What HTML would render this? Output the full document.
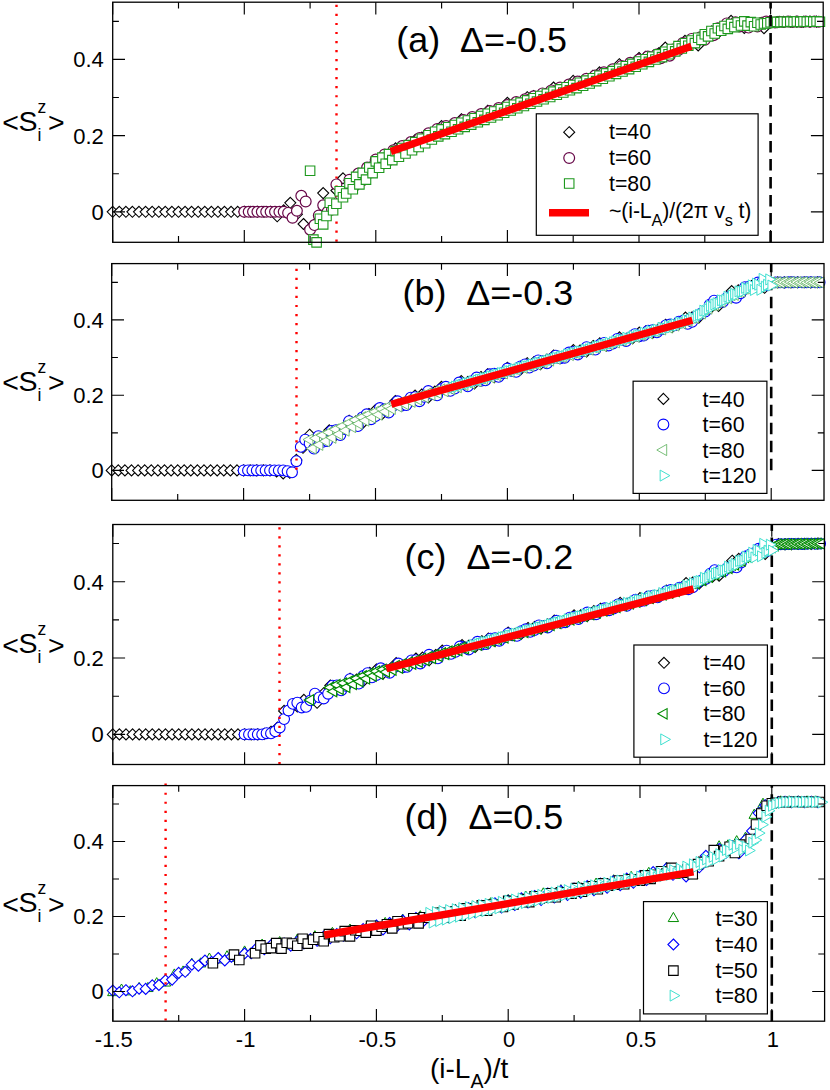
<!DOCTYPE html>
<html><head><meta charset="utf-8"><title>fig</title>
<style>html,body{margin:0;padding:0;background:#fff}svg{display:block}</style></head>
<body>
<svg width="830" height="1090" viewBox="0 0 830 1090" font-family="Liberation Sans, sans-serif" fill="#000">
<rect width="830" height="1090" fill="#fff"/>

<defs>
<path id="di" d="M0-5.5L5.5 0L0 5.5L-5.5 0Z"/>
<circle id="ci" r="5.4"/>
<path id="sq" d="M-4.75-4.75H4.75V4.75H-4.75Z"/>
<path id="tl" d="M-6.2 0L3.1-5.2V5.2Z"/>
<path id="tlb" d="M-6.6 0L3.3-5.6V5.6Z"/>
<path id="tr" d="M6.5 0L-3.25-5.5V5.5Z"/>
<path id="tu" d="M0-6.1L5.2 3.05H-5.2Z"/>
</defs>

<g fill="#fff" stroke="#000" stroke-width="1.1">
<use href="#di" x="112.7" y="211.8"/>
<use href="#di" x="119.3" y="211.8"/>
<use href="#di" x="125.9" y="211.8"/>
<use href="#di" x="132.4" y="211.8"/>
<use href="#di" x="139" y="211.8"/>
<use href="#di" x="145.6" y="211.8"/>
<use href="#di" x="152.2" y="211.8"/>
<use href="#di" x="158.8" y="211.8"/>
<use href="#di" x="165.3" y="211.8"/>
<use href="#di" x="171.9" y="211.8"/>
<use href="#di" x="178.5" y="211.8"/>
<use href="#di" x="185.1" y="211.8"/>
<use href="#di" x="191.6" y="211.8"/>
<use href="#di" x="198.2" y="211.8"/>
<use href="#di" x="204.8" y="211.8"/>
<use href="#di" x="211.4" y="211.8"/>
<use href="#di" x="218" y="211.8"/>
<use href="#di" x="224.5" y="211.8"/>
<use href="#di" x="231.1" y="211.8"/>
<use href="#di" x="237.7" y="211.8"/>
<use href="#di" x="244.3" y="211.8"/>
<use href="#di" x="250.9" y="211.8"/>
<use href="#di" x="257.4" y="211.8"/>
<use href="#di" x="264" y="211.8"/>
<use href="#di" x="270.6" y="211.8"/>
<use href="#di" x="277.2" y="216.3"/>
<use href="#di" x="283.7" y="210.3"/>
<use href="#di" x="290.3" y="202.8"/>
<use href="#di" x="296.9" y="214.3"/>
<use href="#di" x="303.5" y="224"/>
<use href="#di" x="310.1" y="228.2"/>
<use href="#di" x="316.6" y="222.3"/>
<use href="#di" x="323.2" y="193.1"/>
<use href="#di" x="329.8" y="205.3"/>
<use href="#di" x="336.4" y="190.5"/>
<use href="#di" x="343" y="178.3"/>
<use href="#di" x="349.5" y="180.5"/>
<use href="#di" x="356.1" y="178.7"/>
<use href="#di" x="362.7" y="178.6"/>
<use href="#di" x="369.3" y="167.6"/>
<use href="#di" x="375.8" y="160.1"/>
<use href="#di" x="382.4" y="162.2"/>
<use href="#di" x="389" y="156.3"/>
<use href="#di" x="395.6" y="148.3"/>
<use href="#di" x="402.2" y="150"/>
<use href="#di" x="408.7" y="149.1"/>
<use href="#di" x="415.3" y="139.9"/>
<use href="#di" x="421.9" y="137.6"/>
<use href="#di" x="428.5" y="139.4"/>
<use href="#di" x="435.1" y="131.6"/>
<use href="#di" x="441.6" y="126.1"/>
<use href="#di" x="448.2" y="129.7"/>
<use href="#di" x="454.8" y="127.4"/>
<use href="#di" x="461.4" y="119.2"/>
<use href="#di" x="467.9" y="120.1"/>
<use href="#di" x="474.5" y="121.9"/>
<use href="#di" x="481.1" y="114.2"/>
<use href="#di" x="487.7" y="110.7"/>
<use href="#di" x="494.3" y="114.5"/>
<use href="#di" x="500.8" y="110"/>
<use href="#di" x="507.4" y="102.8"/>
<use href="#di" x="514" y="105.5"/>
<use href="#di" x="520.6" y="105.4"/>
<use href="#di" x="527.2" y="97.2"/>
<use href="#di" x="533.7" y="96.1"/>
<use href="#di" x="540.3" y="99.3"/>
<use href="#di" x="546.9" y="93"/>
<use href="#di" x="553.5" y="87.5"/>
<use href="#di" x="560.1" y="91.2"/>
<use href="#di" x="566.6" y="88.9"/>
<use href="#di" x="573.2" y="80.9"/>
<use href="#di" x="579.8" y="81.8"/>
<use href="#di" x="586.4" y="83.7"/>
<use href="#di" x="592.9" y="75.9"/>
<use href="#di" x="599.5" y="72.4"/>
<use href="#di" x="606.1" y="76"/>
<use href="#di" x="612.7" y="71.5"/>
<use href="#di" x="619.3" y="64.2"/>
<use href="#di" x="625.8" y="66.7"/>
<use href="#di" x="632.4" y="66.5"/>
<use href="#di" x="639" y="58"/>
<use href="#di" x="645.6" y="56.8"/>
<use href="#di" x="652.2" y="59.8"/>
<use href="#di" x="658.7" y="53.3"/>
<use href="#di" x="665.3" y="47.6"/>
<use href="#di" x="671.9" y="52.2"/>
<use href="#di" x="678.5" y="48.8"/>
<use href="#di" x="685" y="40.8"/>
<use href="#di" x="691.6" y="42.8"/>
<use href="#di" x="698.2" y="45.4"/>
<use href="#di" x="704.8" y="36.7"/>
<use href="#di" x="711.4" y="31.5"/>
<use href="#di" x="717.9" y="33.1"/>
<use href="#di" x="724.5" y="27.6"/>
<use href="#di" x="731.1" y="20.8"/>
<use href="#di" x="737.7" y="25.2"/>
<use href="#di" x="744.3" y="27.9"/>
<use href="#di" x="750.8" y="23.4"/>
<use href="#di" x="757.4" y="24.9"/>
<use href="#di" x="764" y="28.2"/>
<use href="#di" x="770.6" y="22.4"/>
<use href="#di" x="777.1" y="22.1"/>
<use href="#di" x="783.7" y="21.8"/>
<use href="#di" x="790.3" y="21.8"/>
<use href="#di" x="796.9" y="21.7"/>
<use href="#di" x="803.5" y="21.7"/>
<use href="#di" x="810" y="21.6"/>
<use href="#di" x="816.6" y="21.6"/>
</g>
<g fill="#fff" stroke="#670748" stroke-width="1.2">
<use href="#ci" x="244.3" y="211.8"/>
<use href="#ci" x="248.7" y="211.8"/>
<use href="#ci" x="253" y="211.8"/>
<use href="#ci" x="257.4" y="211.8"/>
<use href="#ci" x="261.8" y="211.8"/>
<use href="#ci" x="266.2" y="211.8"/>
<use href="#ci" x="270.6" y="211.8"/>
<use href="#ci" x="275" y="211.8"/>
<use href="#ci" x="279.4" y="211.8"/>
<use href="#ci" x="283.7" y="211.8"/>
<use href="#ci" x="288.1" y="212.9"/>
<use href="#ci" x="292.5" y="217.8"/>
<use href="#ci" x="296.9" y="210.8"/>
<use href="#ci" x="301.3" y="195.8"/>
<use href="#ci" x="305.7" y="201.5"/>
<use href="#ci" x="310.1" y="229.7"/>
<use href="#ci" x="314.4" y="225.1"/>
<use href="#ci" x="318.8" y="215.5"/>
<use href="#ci" x="323.2" y="205.3"/>
<use href="#ci" x="327.6" y="211.8"/>
<use href="#ci" x="332" y="209.5"/>
<use href="#ci" x="336.4" y="184.4"/>
<use href="#ci" x="340.8" y="195.4"/>
<use href="#ci" x="345.1" y="193.6"/>
<use href="#ci" x="349.5" y="179.7"/>
<use href="#ci" x="353.9" y="186.4"/>
<use href="#ci" x="358.3" y="173.6"/>
<use href="#ci" x="362.7" y="180.2"/>
<use href="#ci" x="367.1" y="167.6"/>
<use href="#ci" x="371.5" y="172.2"/>
<use href="#ci" x="375.8" y="159.5"/>
<use href="#ci" x="380.2" y="165.1"/>
<use href="#ci" x="384.6" y="154.5"/>
<use href="#ci" x="389" y="159.9"/>
<use href="#ci" x="393.4" y="150.2"/>
<use href="#ci" x="397.8" y="155.5"/>
<use href="#ci" x="402.2" y="146.1"/>
<use href="#ci" x="406.5" y="151.1"/>
<use href="#ci" x="410.9" y="142.1"/>
<use href="#ci" x="415.3" y="146.8"/>
<use href="#ci" x="419.7" y="138"/>
<use href="#ci" x="424.1" y="142"/>
<use href="#ci" x="428.5" y="133.3"/>
<use href="#ci" x="432.9" y="137"/>
<use href="#ci" x="437.2" y="129"/>
<use href="#ci" x="441.6" y="133.3"/>
<use href="#ci" x="446" y="126"/>
<use href="#ci" x="450.4" y="130.2"/>
<use href="#ci" x="454.8" y="123.1"/>
<use href="#ci" x="459.2" y="127"/>
<use href="#ci" x="463.6" y="120.1"/>
<use href="#ci" x="467.9" y="123.9"/>
<use href="#ci" x="472.3" y="117.1"/>
<use href="#ci" x="476.7" y="120.7"/>
<use href="#ci" x="481.1" y="114.1"/>
<use href="#ci" x="485.5" y="117.6"/>
<use href="#ci" x="489.9" y="111.1"/>
<use href="#ci" x="494.3" y="114.4"/>
<use href="#ci" x="498.7" y="108.1"/>
<use href="#ci" x="503" y="111.3"/>
<use href="#ci" x="507.4" y="105.1"/>
<use href="#ci" x="511.8" y="108.2"/>
<use href="#ci" x="516.2" y="102.1"/>
<use href="#ci" x="520.6" y="105.2"/>
<use href="#ci" x="525" y="99.2"/>
<use href="#ci" x="529.4" y="102.2"/>
<use href="#ci" x="533.7" y="96.3"/>
<use href="#ci" x="538.1" y="99.2"/>
<use href="#ci" x="542.5" y="93.4"/>
<use href="#ci" x="546.9" y="96.2"/>
<use href="#ci" x="551.3" y="90.4"/>
<use href="#ci" x="555.7" y="93.2"/>
<use href="#ci" x="560.1" y="87.5"/>
<use href="#ci" x="564.4" y="90.3"/>
<use href="#ci" x="568.8" y="84.6"/>
<use href="#ci" x="573.2" y="87.3"/>
<use href="#ci" x="577.6" y="81.6"/>
<use href="#ci" x="582" y="84.3"/>
<use href="#ci" x="586.4" y="78.7"/>
<use href="#ci" x="590.8" y="81.2"/>
<use href="#ci" x="595.1" y="75.5"/>
<use href="#ci" x="599.5" y="78"/>
<use href="#ci" x="603.9" y="72.3"/>
<use href="#ci" x="608.3" y="74.8"/>
<use href="#ci" x="612.7" y="69.2"/>
<use href="#ci" x="617.1" y="71.6"/>
<use href="#ci" x="621.5" y="66"/>
<use href="#ci" x="625.8" y="68.4"/>
<use href="#ci" x="630.2" y="62.8"/>
<use href="#ci" x="634.6" y="65.2"/>
<use href="#ci" x="639" y="59.6"/>
<use href="#ci" x="643.4" y="62"/>
<use href="#ci" x="647.8" y="56.5"/>
<use href="#ci" x="652.2" y="58.8"/>
<use href="#ci" x="656.5" y="54.5"/>
<use href="#ci" x="660.9" y="58.2"/>
<use href="#ci" x="665.3" y="53.5"/>
<use href="#ci" x="669.7" y="55.7"/>
<use href="#ci" x="674.1" y="49.2"/>
<use href="#ci" x="678.5" y="50"/>
<use href="#ci" x="682.9" y="42.9"/>
<use href="#ci" x="687.2" y="44.3"/>
<use href="#ci" x="691.6" y="38.9"/>
<use href="#ci" x="696" y="42"/>
<use href="#ci" x="700.4" y="37.2"/>
<use href="#ci" x="704.8" y="39.8"/>
<use href="#ci" x="709.2" y="33.9"/>
<use href="#ci" x="713.6" y="35.2"/>
<use href="#ci" x="717.9" y="28.2"/>
<use href="#ci" x="722.3" y="29.3"/>
<use href="#ci" x="726.7" y="23.4"/>
<use href="#ci" x="731.1" y="26.2"/>
<use href="#ci" x="735.5" y="22.3"/>
<use href="#ci" x="739.9" y="26.4"/>
<use href="#ci" x="744.3" y="23.1"/>
<use href="#ci" x="748.6" y="27.6"/>
<use href="#ci" x="753" y="23.5"/>
<use href="#ci" x="757.4" y="26.5"/>
<use href="#ci" x="761.8" y="22.7"/>
<use href="#ci" x="766.2" y="21.6"/>
<use href="#ci" x="770.6" y="22.3"/>
<use href="#ci" x="775" y="22.4"/>
<use href="#ci" x="779.3" y="21.8"/>
<use href="#ci" x="783.7" y="22"/>
<use href="#ci" x="788.1" y="21.6"/>
<use href="#ci" x="792.5" y="22"/>
<use href="#ci" x="796.9" y="21.5"/>
<use href="#ci" x="801.3" y="21.9"/>
<use href="#ci" x="805.7" y="21.5"/>
<use href="#ci" x="810" y="21.8"/>
<use href="#ci" x="814.4" y="21.4"/>
<use href="#ci" x="818.8" y="21.7"/>
</g>
<path d="M336.5 4.83V242.3" stroke="#f00" stroke-width="2.4" stroke-dasharray="2.2 6.83" fill="none"/>
<g fill="#fff" stroke="#1d981d" stroke-width="1.1">
<use href="#sq" x="310.1" y="170.8"/>
<use href="#sq" x="313.4" y="239.6"/>
<use href="#sq" x="316.6" y="242.4"/>
<use href="#sq" x="319.9" y="218.8"/>
<use href="#sq" x="323.2" y="224.4"/>
<use href="#sq" x="326.5" y="216"/>
<use href="#sq" x="329.8" y="202.8"/>
<use href="#sq" x="333.1" y="210.3"/>
<use href="#sq" x="336.4" y="203.7"/>
<use href="#sq" x="339.7" y="191.3"/>
<use href="#sq" x="343" y="197.3"/>
<use href="#sq" x="346.2" y="193.5"/>
<use href="#sq" x="349.5" y="183.2"/>
<use href="#sq" x="352.8" y="189.2"/>
<use href="#sq" x="356.1" y="176.9"/>
<use href="#sq" x="359.4" y="184.4"/>
<use href="#sq" x="362.7" y="172.9"/>
<use href="#sq" x="366" y="179.6"/>
<use href="#sq" x="369.3" y="167.5"/>
<use href="#sq" x="372.6" y="173.1"/>
<use href="#sq" x="375.8" y="161.4"/>
<use href="#sq" x="379.1" y="167.7"/>
<use href="#sq" x="382.4" y="157.6"/>
<use href="#sq" x="385.7" y="163.7"/>
<use href="#sq" x="389" y="154.1"/>
<use href="#sq" x="392.3" y="160.1"/>
<use href="#sq" x="395.6" y="151.1"/>
<use href="#sq" x="398.9" y="156.8"/>
<use href="#sq" x="402.2" y="148"/>
<use href="#sq" x="405.5" y="153.5"/>
<use href="#sq" x="408.7" y="145.1"/>
<use href="#sq" x="412" y="150.3"/>
<use href="#sq" x="415.3" y="142.1"/>
<use href="#sq" x="418.6" y="147"/>
<use href="#sq" x="421.9" y="138.7"/>
<use href="#sq" x="425.2" y="143.3"/>
<use href="#sq" x="428.5" y="135.2"/>
<use href="#sq" x="431.8" y="139.5"/>
<use href="#sq" x="435.1" y="131.7"/>
<use href="#sq" x="438.3" y="136.4"/>
<use href="#sq" x="441.6" y="129.4"/>
<use href="#sq" x="444.9" y="134.1"/>
<use href="#sq" x="448.2" y="127.2"/>
<use href="#sq" x="451.5" y="131.7"/>
<use href="#sq" x="454.8" y="125"/>
<use href="#sq" x="458.1" y="129.3"/>
<use href="#sq" x="461.4" y="122.7"/>
<use href="#sq" x="464.7" y="126.9"/>
<use href="#sq" x="467.9" y="120.5"/>
<use href="#sq" x="471.2" y="124.6"/>
<use href="#sq" x="474.5" y="118.3"/>
<use href="#sq" x="477.8" y="122.2"/>
<use href="#sq" x="481.1" y="116"/>
<use href="#sq" x="484.4" y="119.9"/>
<use href="#sq" x="487.7" y="113.8"/>
<use href="#sq" x="491" y="117.5"/>
<use href="#sq" x="494.3" y="111.5"/>
<use href="#sq" x="497.6" y="115.2"/>
<use href="#sq" x="500.8" y="109.2"/>
<use href="#sq" x="504.1" y="112.8"/>
<use href="#sq" x="507.4" y="107"/>
<use href="#sq" x="510.7" y="110.5"/>
<use href="#sq" x="514" y="104.8"/>
<use href="#sq" x="517.3" y="108.3"/>
<use href="#sq" x="520.6" y="102.6"/>
<use href="#sq" x="523.9" y="106"/>
<use href="#sq" x="527.2" y="100.4"/>
<use href="#sq" x="530.4" y="103.8"/>
<use href="#sq" x="533.7" y="98.2"/>
<use href="#sq" x="537" y="101.5"/>
<use href="#sq" x="540.3" y="96"/>
<use href="#sq" x="543.6" y="99.3"/>
<use href="#sq" x="546.9" y="93.8"/>
<use href="#sq" x="550.2" y="97"/>
<use href="#sq" x="553.5" y="91.6"/>
<use href="#sq" x="556.8" y="94.8"/>
<use href="#sq" x="560.1" y="89.4"/>
<use href="#sq" x="563.3" y="92.5"/>
<use href="#sq" x="566.6" y="87.2"/>
<use href="#sq" x="569.9" y="90.3"/>
<use href="#sq" x="573.2" y="85"/>
<use href="#sq" x="576.5" y="88.1"/>
<use href="#sq" x="579.8" y="82.8"/>
<use href="#sq" x="583.1" y="85.8"/>
<use href="#sq" x="586.4" y="80.6"/>
<use href="#sq" x="589.7" y="83.5"/>
<use href="#sq" x="592.9" y="78.2"/>
<use href="#sq" x="596.2" y="81.1"/>
<use href="#sq" x="599.5" y="75.8"/>
<use href="#sq" x="602.8" y="78.7"/>
<use href="#sq" x="606.1" y="73.4"/>
<use href="#sq" x="609.4" y="76.3"/>
<use href="#sq" x="612.7" y="71.1"/>
<use href="#sq" x="616" y="73.9"/>
<use href="#sq" x="619.3" y="68.7"/>
<use href="#sq" x="622.5" y="71.5"/>
<use href="#sq" x="625.8" y="66.3"/>
<use href="#sq" x="629.1" y="69.1"/>
<use href="#sq" x="632.4" y="63.9"/>
<use href="#sq" x="635.7" y="66.7"/>
<use href="#sq" x="639" y="61.5"/>
<use href="#sq" x="642.3" y="64.3"/>
<use href="#sq" x="645.6" y="59.2"/>
<use href="#sq" x="648.9" y="61.9"/>
<use href="#sq" x="652.2" y="56.8"/>
<use href="#sq" x="655.4" y="59.5"/>
<use href="#sq" x="658.7" y="54.4"/>
<use href="#sq" x="662" y="57.1"/>
<use href="#sq" x="665.3" y="51.8"/>
<use href="#sq" x="668.6" y="54.3"/>
<use href="#sq" x="671.9" y="49"/>
<use href="#sq" x="675.2" y="51.4"/>
<use href="#sq" x="678.5" y="46.1"/>
<use href="#sq" x="681.8" y="48.5"/>
<use href="#sq" x="685" y="43.2"/>
<use href="#sq" x="688.3" y="45.8"/>
<use href="#sq" x="691.6" y="40.5"/>
<use href="#sq" x="694.9" y="43.1"/>
<use href="#sq" x="698.2" y="37.7"/>
<use href="#sq" x="701.5" y="39.9"/>
<use href="#sq" x="704.8" y="34.3"/>
<use href="#sq" x="708.1" y="36.4"/>
<use href="#sq" x="711.4" y="31"/>
<use href="#sq" x="714.7" y="33.5"/>
<use href="#sq" x="717.9" y="28.2"/>
<use href="#sq" x="721.2" y="30.8"/>
<use href="#sq" x="724.5" y="26"/>
<use href="#sq" x="727.8" y="28.9"/>
<use href="#sq" x="731.1" y="24"/>
<use href="#sq" x="734.4" y="27.1"/>
<use href="#sq" x="737.7" y="22.5"/>
<use href="#sq" x="741" y="25.5"/>
<use href="#sq" x="744.3" y="21.4"/>
<use href="#sq" x="747.5" y="25.6"/>
<use href="#sq" x="750.8" y="22.1"/>
<use href="#sq" x="754.1" y="26.3"/>
<use href="#sq" x="757.4" y="22.7"/>
<use href="#sq" x="760.7" y="24.5"/>
<use href="#sq" x="764" y="23.5"/>
<use href="#sq" x="767.3" y="23.3"/>
<use href="#sq" x="770.6" y="22.3"/>
<use href="#sq" x="773.9" y="22.5"/>
<use href="#sq" x="777.1" y="21.9"/>
<use href="#sq" x="780.4" y="22.1"/>
<use href="#sq" x="783.7" y="21.7"/>
<use href="#sq" x="787" y="22"/>
<use href="#sq" x="790.3" y="21.6"/>
<use href="#sq" x="793.6" y="21.9"/>
<use href="#sq" x="796.9" y="21.5"/>
<use href="#sq" x="800.2" y="21.9"/>
<use href="#sq" x="803.5" y="21.5"/>
<use href="#sq" x="806.8" y="21.8"/>
<use href="#sq" x="810" y="21.4"/>
<use href="#sq" x="813.3" y="21.8"/>
<use href="#sq" x="816.6" y="21.4"/>
<use href="#sq" x="819.9" y="21.7"/>
</g>
<path d="M390.8 151.6L691.4 46.3" stroke="#f00" stroke-width="7.4" fill="none"/>
<path d="M770.6 2.2V242.3" stroke="#000" stroke-width="2.6" stroke-dasharray="11.6 6.4" stroke-dashoffset="5.25" fill="none"/>
<g stroke="#000" stroke-width="1.15" fill="none">
<path d="M112.7 2.2v12.3M112.7 242.3v-12.3M178.5 2.2v6.2M178.5 242.3v-6.2M244.3 2.2v12.3M244.3 242.3v-12.3M310.1 2.2v6.2M310.1 242.3v-6.2M375.8 2.2v12.3M375.8 242.3v-12.3M441.6 2.2v6.2M441.6 242.3v-6.2M507.4 2.2v12.3M507.4 242.3v-12.3M573.2 2.2v6.2M573.2 242.3v-6.2M639 2.2v12.3M639 242.3v-12.3M704.8 2.2v6.2M704.8 242.3v-6.2M770.6 2.2v12.3M770.6 242.3v-12.3M112.7 211.8h12.3M823.2 211.8h-12.3M112.7 173.7h6.2M823.2 173.7h-6.2M112.7 135.6h12.3M823.2 135.6h-12.3M112.7 97.5h6.2M823.2 97.5h-6.2M112.7 59.4h12.3M823.2 59.4h-12.3M112.7 21.3h6.2M823.2 21.3h-6.2"/>
</g>
<rect x="112.7" y="2.2" width="710.5" height="240.1" fill="none" stroke="#000" stroke-width="1.3"/>
<text x="396.3" y="52.2" font-size="35.9" xml:space="preserve">(a)  Δ=-0.5</text>
<rect x="536.3" y="113.8" width="221.8" height="121.5" fill="#fff" stroke="#000" stroke-width="1.2"/>
<use href="#di" x="569.2" y="132.2" fill="#fff" stroke="#000" stroke-width="1.1"/>
<text x="609" y="139.3" font-size="21.3">t=40</text>
<use href="#ci" x="569.2" y="158" fill="#fff" stroke="#670748" stroke-width="1.2"/>
<text x="609" y="165.1" font-size="21.3">t=60</text>
<use href="#sq" x="569.2" y="183.5" fill="#fff" stroke="#1d981d" stroke-width="1.1"/>
<text x="609" y="190.6" font-size="21.3">t=80</text>
<path d="M549 212.8H589" stroke="#f00" stroke-width="7.4"/>
<text x="609" y="218.2" font-size="21.3" textLength="142.4" lengthAdjust="spacing">~(i-L<tspan font-size="16.3" dy="7.3">A</tspan><tspan dy="-7.3">)/(2π v</tspan><tspan font-size="16.3" dy="7.3">s</tspan><tspan dy="-7.3"> t)</tspan></text>
<text x="103.8" y="219.7" text-anchor="end" font-size="22">0</text>
<text x="103.8" y="143.5" text-anchor="end" font-size="22">0.2</text>
<text x="103.8" y="67.3" text-anchor="end" font-size="22">0.4</text>
<text x="2.3" y="132.3" font-size="28.5">&lt;</text>
<text x="18.6" y="130.8" font-size="28.5">S</text>
<text x="37.6" y="112.8" font-size="17.5">z</text>
<text x="37.4" y="140.9" font-size="17.5">i</text>
<text x="47.9" y="132.3" font-size="28.5">&gt;</text>
<g fill="#fff" stroke="#000" stroke-width="1.1">
<use href="#di" x="111.7" y="470.4"/>
<use href="#di" x="118.3" y="470.4"/>
<use href="#di" x="124.9" y="470.4"/>
<use href="#di" x="131.5" y="470.4"/>
<use href="#di" x="138.1" y="470.4"/>
<use href="#di" x="144.7" y="470.4"/>
<use href="#di" x="151.3" y="470.4"/>
<use href="#di" x="157.9" y="470.4"/>
<use href="#di" x="164.5" y="470.4"/>
<use href="#di" x="171.1" y="470.4"/>
<use href="#di" x="177.7" y="470.4"/>
<use href="#di" x="184.2" y="470.4"/>
<use href="#di" x="190.8" y="470.4"/>
<use href="#di" x="197.4" y="470.4"/>
<use href="#di" x="204" y="470.4"/>
<use href="#di" x="210.6" y="470.4"/>
<use href="#di" x="217.2" y="470.4"/>
<use href="#di" x="223.8" y="470.4"/>
<use href="#di" x="230.4" y="470.4"/>
<use href="#di" x="237" y="470.4"/>
<use href="#di" x="243.6" y="470.4"/>
<use href="#di" x="250.2" y="470.4"/>
<use href="#di" x="256.8" y="470.4"/>
<use href="#di" x="263.4" y="470.4"/>
<use href="#di" x="270" y="470.4"/>
<use href="#di" x="276.6" y="471.5"/>
<use href="#di" x="283.2" y="473.4"/>
<use href="#di" x="289.8" y="472.7"/>
<use href="#di" x="296.4" y="459.9"/>
<use href="#di" x="303" y="447.8"/>
<use href="#di" x="309.6" y="434.7"/>
<use href="#di" x="316.2" y="440.3"/>
<use href="#di" x="322.8" y="437.9"/>
<use href="#di" x="329.3" y="430.3"/>
<use href="#di" x="335.9" y="435"/>
<use href="#di" x="342.5" y="431.5"/>
<use href="#di" x="349.1" y="420.7"/>
<use href="#di" x="355.7" y="421.5"/>
<use href="#di" x="362.3" y="423.5"/>
<use href="#di" x="368.9" y="414"/>
<use href="#di" x="375.5" y="410"/>
<use href="#di" x="382.1" y="414"/>
<use href="#di" x="388.7" y="408.7"/>
<use href="#di" x="395.3" y="401"/>
<use href="#di" x="401.9" y="403.9"/>
<use href="#di" x="408.5" y="403.9"/>
<use href="#di" x="415.1" y="395.6"/>
<use href="#di" x="421.7" y="394.5"/>
<use href="#di" x="428.3" y="397.5"/>
<use href="#di" x="434.9" y="391.6"/>
<use href="#di" x="441.5" y="386.8"/>
<use href="#di" x="448.1" y="390.2"/>
<use href="#di" x="454.7" y="388.2"/>
<use href="#di" x="461.3" y="381.1"/>
<use href="#di" x="467.8" y="382"/>
<use href="#di" x="474.4" y="383.5"/>
<use href="#di" x="481" y="377"/>
<use href="#di" x="487.6" y="374.2"/>
<use href="#di" x="494.2" y="377.2"/>
<use href="#di" x="500.8" y="373.5"/>
<use href="#di" x="507.4" y="367.8"/>
<use href="#di" x="514" y="369.7"/>
<use href="#di" x="520.6" y="369.5"/>
<use href="#di" x="527.2" y="363.2"/>
<use href="#di" x="533.8" y="362.2"/>
<use href="#di" x="540.4" y="364.3"/>
<use href="#di" x="547" y="359.6"/>
<use href="#di" x="553.6" y="355.5"/>
<use href="#di" x="560.2" y="357.8"/>
<use href="#di" x="566.8" y="355.9"/>
<use href="#di" x="573.4" y="350.1"/>
<use href="#di" x="580" y="350.5"/>
<use href="#di" x="586.6" y="351.4"/>
<use href="#di" x="593.2" y="346"/>
<use href="#di" x="599.8" y="343.4"/>
<use href="#di" x="606.4" y="345.6"/>
<use href="#di" x="612.9" y="342.3"/>
<use href="#di" x="619.5" y="337.4"/>
<use href="#di" x="626.1" y="338.7"/>
<use href="#di" x="632.7" y="338.2"/>
<use href="#di" x="639.3" y="332.6"/>
<use href="#di" x="645.9" y="331.4"/>
<use href="#di" x="652.5" y="332.9"/>
<use href="#di" x="659.1" y="328.6"/>
<use href="#di" x="665.7" y="324.8"/>
<use href="#di" x="672.3" y="326.9"/>
<use href="#di" x="678.9" y="323.9"/>
<use href="#di" x="685.5" y="317.6"/>
<use href="#di" x="692.1" y="317.4"/>
<use href="#di" x="698.7" y="317.6"/>
<use href="#di" x="705.3" y="310.9"/>
<use href="#di" x="711.9" y="306.6"/>
<use href="#di" x="718.5" y="305.9"/>
<use href="#di" x="725.1" y="299.3"/>
<use href="#di" x="731.7" y="291.1"/>
<use href="#di" x="738.3" y="290.4"/>
<use href="#di" x="744.9" y="289.7"/>
<use href="#di" x="751.5" y="286"/>
<use href="#di" x="758" y="286.3"/>
<use href="#di" x="764.6" y="287.8"/>
<use href="#di" x="771.2" y="282.7"/>
<use href="#di" x="777.8" y="282.4"/>
<use href="#di" x="784.4" y="282.4"/>
<use href="#di" x="791" y="282.4"/>
<use href="#di" x="797.6" y="282.2"/>
<use href="#di" x="804.2" y="282.3"/>
<use href="#di" x="810.8" y="282.4"/>
<use href="#di" x="817.4" y="282.2"/>
</g>
<g fill="#fff" stroke="#0000ff" stroke-width="1.1">
<use href="#ci" x="243.6" y="470.4"/>
<use href="#ci" x="248" y="470.4"/>
<use href="#ci" x="252.4" y="470.4"/>
<use href="#ci" x="256.8" y="470.4"/>
<use href="#ci" x="261.2" y="470.4"/>
<use href="#ci" x="265.6" y="470.4"/>
<use href="#ci" x="270" y="470.4"/>
<use href="#ci" x="274.4" y="470.4"/>
<use href="#ci" x="278.8" y="470.4"/>
<use href="#ci" x="283.2" y="470.4"/>
<use href="#ci" x="287.6" y="471.2"/>
<use href="#ci" x="292" y="472.3"/>
<use href="#ci" x="296.4" y="461.2"/>
<use href="#ci" x="300.8" y="446.9"/>
<use href="#ci" x="305.2" y="439.7"/>
<use href="#ci" x="309.6" y="443.5"/>
<use href="#ci" x="314" y="448.6"/>
<use href="#ci" x="318.4" y="436.2"/>
<use href="#ci" x="322.8" y="441.8"/>
<use href="#ci" x="327.1" y="441"/>
<use href="#ci" x="331.5" y="430.9"/>
<use href="#ci" x="335.9" y="430.1"/>
<use href="#ci" x="340.3" y="435.1"/>
<use href="#ci" x="344.7" y="429"/>
<use href="#ci" x="349.1" y="421.1"/>
<use href="#ci" x="353.5" y="424.5"/>
<use href="#ci" x="357.9" y="426.1"/>
<use href="#ci" x="362.3" y="417.4"/>
<use href="#ci" x="366.7" y="414.3"/>
<use href="#ci" x="371.1" y="419.2"/>
<use href="#ci" x="375.5" y="416.1"/>
<use href="#ci" x="379.9" y="408"/>
<use href="#ci" x="384.3" y="409.5"/>
<use href="#ci" x="388.7" y="412.5"/>
<use href="#ci" x="393.1" y="405.9"/>
<use href="#ci" x="397.5" y="401.3"/>
<use href="#ci" x="401.9" y="405.6"/>
<use href="#ci" x="406.3" y="405.1"/>
<use href="#ci" x="410.7" y="397.7"/>
<use href="#ci" x="415.1" y="397.2"/>
<use href="#ci" x="419.5" y="401.2"/>
<use href="#ci" x="423.9" y="396.8"/>
<use href="#ci" x="428.3" y="391"/>
<use href="#ci" x="432.7" y="394"/>
<use href="#ci" x="437.1" y="395.4"/>
<use href="#ci" x="441.5" y="389"/>
<use href="#ci" x="445.9" y="386.8"/>
<use href="#ci" x="450.3" y="390.8"/>
<use href="#ci" x="454.7" y="388.6"/>
<use href="#ci" x="459.1" y="382.5"/>
<use href="#ci" x="463.5" y="383.8"/>
<use href="#ci" x="467.8" y="386.3"/>
<use href="#ci" x="472.2" y="381.2"/>
<use href="#ci" x="476.6" y="377.5"/>
<use href="#ci" x="481" y="380.8"/>
<use href="#ci" x="485.4" y="380.3"/>
<use href="#ci" x="489.8" y="374.3"/>
<use href="#ci" x="494.2" y="373.8"/>
<use href="#ci" x="498.6" y="376.9"/>
<use href="#ci" x="503" y="373.3"/>
<use href="#ci" x="507.4" y="368.5"/>
<use href="#ci" x="511.8" y="370.8"/>
<use href="#ci" x="516.2" y="371.8"/>
<use href="#ci" x="520.6" y="366.4"/>
<use href="#ci" x="525" y="364.4"/>
<use href="#ci" x="529.4" y="367.6"/>
<use href="#ci" x="533.8" y="365.6"/>
<use href="#ci" x="538.2" y="360.4"/>
<use href="#ci" x="542.6" y="361.3"/>
<use href="#ci" x="547" y="363.3"/>
<use href="#ci" x="551.4" y="358.9"/>
<use href="#ci" x="555.8" y="355.6"/>
<use href="#ci" x="560.2" y="358.3"/>
<use href="#ci" x="564.6" y="357.7"/>
<use href="#ci" x="569" y="352.5"/>
<use href="#ci" x="573.4" y="352"/>
<use href="#ci" x="577.8" y="354.5"/>
<use href="#ci" x="582.2" y="351.3"/>
<use href="#ci" x="586.6" y="347.1"/>
<use href="#ci" x="591" y="348.9"/>
<use href="#ci" x="595.4" y="349.6"/>
<use href="#ci" x="599.8" y="344.8"/>
<use href="#ci" x="604.2" y="342.9"/>
<use href="#ci" x="608.6" y="345.5"/>
<use href="#ci" x="612.9" y="343.6"/>
<use href="#ci" x="617.3" y="338.9"/>
<use href="#ci" x="621.7" y="339.6"/>
<use href="#ci" x="626.1" y="341.1"/>
<use href="#ci" x="630.5" y="337.1"/>
<use href="#ci" x="634.9" y="334.1"/>
<use href="#ci" x="639.3" y="336.2"/>
<use href="#ci" x="643.7" y="335.6"/>
<use href="#ci" x="648.1" y="330.8"/>
<use href="#ci" x="652.5" y="330.2"/>
<use href="#ci" x="656.9" y="332.3"/>
<use href="#ci" x="661.3" y="329.3"/>
<use href="#ci" x="665.7" y="325.4"/>
<use href="#ci" x="670.1" y="324.5"/>
<use href="#ci" x="674.5" y="325.2"/>
<use href="#ci" x="678.9" y="321.7"/>
<use href="#ci" x="683.3" y="320.8"/>
<use href="#ci" x="687.7" y="323.8"/>
<use href="#ci" x="692.1" y="321.9"/>
<use href="#ci" x="696.5" y="316.5"/>
<use href="#ci" x="700.9" y="313.7"/>
<use href="#ci" x="705.3" y="311.6"/>
<use href="#ci" x="709.7" y="304.8"/>
<use href="#ci" x="714.1" y="300.6"/>
<use href="#ci" x="718.5" y="302.1"/>
<use href="#ci" x="722.9" y="301.7"/>
<use href="#ci" x="727.3" y="297.5"/>
<use href="#ci" x="731.7" y="296.7"/>
<use href="#ci" x="736.1" y="297.7"/>
<use href="#ci" x="740.5" y="293.2"/>
<use href="#ci" x="744.9" y="287.2"/>
<use href="#ci" x="749.3" y="286.8"/>
<use href="#ci" x="753.6" y="286.5"/>
<use href="#ci" x="758" y="282.5"/>
<use href="#ci" x="762.4" y="281.8"/>
<use href="#ci" x="766.8" y="285.3"/>
<use href="#ci" x="771.2" y="282.8"/>
<use href="#ci" x="775.6" y="282.4"/>
<use href="#ci" x="780" y="282.4"/>
<use href="#ci" x="784.4" y="282.5"/>
<use href="#ci" x="788.8" y="282.3"/>
<use href="#ci" x="793.2" y="282.2"/>
<use href="#ci" x="797.6" y="282.4"/>
<use href="#ci" x="802" y="282.4"/>
<use href="#ci" x="806.4" y="282.2"/>
<use href="#ci" x="810.8" y="282.2"/>
<use href="#ci" x="815.2" y="282.4"/>
<use href="#ci" x="819.6" y="282.3"/>
</g>
<g fill="#fff" stroke="#58ae58" stroke-width="0.8">
<use href="#tlb" x="309.6" y="439.6"/>
<use href="#tlb" x="312.9" y="448.5"/>
<use href="#tlb" x="316.2" y="438.3"/>
<use href="#tlb" x="319.5" y="444.8"/>
<use href="#tlb" x="322.8" y="435.3"/>
<use href="#tlb" x="326" y="441.2"/>
<use href="#tlb" x="329.3" y="432.4"/>
<use href="#tlb" x="332.6" y="437.7"/>
<use href="#tlb" x="335.9" y="429.4"/>
<use href="#tlb" x="339.2" y="434.2"/>
<use href="#tlb" x="342.5" y="426.3"/>
<use href="#tlb" x="345.8" y="430.6"/>
<use href="#tlb" x="349.1" y="423.1"/>
<use href="#tlb" x="352.4" y="427"/>
<use href="#tlb" x="355.7" y="420"/>
<use href="#tlb" x="359" y="423.7"/>
<use href="#tlb" x="362.3" y="417.3"/>
<use href="#tlb" x="365.6" y="420.6"/>
<use href="#tlb" x="368.9" y="414.5"/>
<use href="#tlb" x="372.2" y="417.6"/>
<use href="#tlb" x="375.5" y="411.8"/>
<use href="#tlb" x="378.8" y="414.6"/>
<use href="#tlb" x="382.1" y="409.1"/>
<use href="#tlb" x="385.4" y="411.7"/>
<use href="#tlb" x="388.7" y="406.4"/>
<use href="#tlb" x="392" y="408.8"/>
<use href="#tlb" x="395.3" y="404.1"/>
<use href="#tlb" x="398.6" y="406.5"/>
<use href="#tlb" x="401.9" y="401.9"/>
<use href="#tlb" x="405.2" y="404.1"/>
<use href="#tlb" x="408.5" y="399.8"/>
<use href="#tlb" x="411.8" y="401.8"/>
<use href="#tlb" x="415.1" y="397.6"/>
<use href="#tlb" x="418.4" y="399.5"/>
<use href="#tlb" x="421.7" y="395.4"/>
<use href="#tlb" x="425" y="397.2"/>
<use href="#tlb" x="428.3" y="393.3"/>
<use href="#tlb" x="431.6" y="395"/>
<use href="#tlb" x="434.9" y="391.4"/>
<use href="#tlb" x="438.2" y="393"/>
<use href="#tlb" x="441.5" y="389.5"/>
<use href="#tlb" x="444.8" y="391.1"/>
<use href="#tlb" x="448.1" y="387.6"/>
<use href="#tlb" x="451.4" y="389.1"/>
<use href="#tlb" x="454.7" y="385.7"/>
<use href="#tlb" x="458" y="387.1"/>
<use href="#tlb" x="461.3" y="383.9"/>
<use href="#tlb" x="464.6" y="385.1"/>
<use href="#tlb" x="467.8" y="382"/>
<use href="#tlb" x="471.1" y="383.2"/>
<use href="#tlb" x="474.4" y="380.1"/>
<use href="#tlb" x="477.7" y="381.2"/>
<use href="#tlb" x="481" y="378.2"/>
<use href="#tlb" x="484.3" y="379.2"/>
<use href="#tlb" x="487.6" y="376.3"/>
<use href="#tlb" x="490.9" y="377.3"/>
<use href="#tlb" x="494.2" y="374.3"/>
<use href="#tlb" x="497.5" y="375.3"/>
<use href="#tlb" x="500.8" y="372.4"/>
<use href="#tlb" x="504.1" y="373.4"/>
<use href="#tlb" x="507.4" y="370.5"/>
<use href="#tlb" x="510.7" y="371.5"/>
<use href="#tlb" x="514" y="368.7"/>
<use href="#tlb" x="517.3" y="369.7"/>
<use href="#tlb" x="520.6" y="366.9"/>
<use href="#tlb" x="523.9" y="367.8"/>
<use href="#tlb" x="527.2" y="365.1"/>
<use href="#tlb" x="530.5" y="366"/>
<use href="#tlb" x="533.8" y="363.3"/>
<use href="#tlb" x="537.1" y="364.2"/>
<use href="#tlb" x="540.4" y="361.5"/>
<use href="#tlb" x="543.7" y="362.3"/>
<use href="#tlb" x="547" y="359.7"/>
<use href="#tlb" x="550.3" y="360.5"/>
<use href="#tlb" x="553.6" y="357.9"/>
<use href="#tlb" x="556.9" y="358.7"/>
<use href="#tlb" x="560.2" y="356.1"/>
<use href="#tlb" x="563.5" y="356.9"/>
<use href="#tlb" x="566.8" y="354.3"/>
<use href="#tlb" x="570.1" y="355"/>
<use href="#tlb" x="573.4" y="352.5"/>
<use href="#tlb" x="576.7" y="353.2"/>
<use href="#tlb" x="580" y="350.7"/>
<use href="#tlb" x="583.3" y="351.4"/>
<use href="#tlb" x="586.6" y="348.9"/>
<use href="#tlb" x="589.9" y="349.6"/>
<use href="#tlb" x="593.2" y="347"/>
<use href="#tlb" x="596.5" y="347.7"/>
<use href="#tlb" x="599.8" y="345.2"/>
<use href="#tlb" x="603.1" y="345.9"/>
<use href="#tlb" x="606.4" y="343.4"/>
<use href="#tlb" x="609.7" y="344.1"/>
<use href="#tlb" x="612.9" y="341.6"/>
<use href="#tlb" x="616.2" y="342.3"/>
<use href="#tlb" x="619.5" y="339.8"/>
<use href="#tlb" x="622.8" y="340.5"/>
<use href="#tlb" x="626.1" y="338"/>
<use href="#tlb" x="629.4" y="338.6"/>
<use href="#tlb" x="632.7" y="336.1"/>
<use href="#tlb" x="636" y="336.8"/>
<use href="#tlb" x="639.3" y="334.3"/>
<use href="#tlb" x="642.6" y="334.9"/>
<use href="#tlb" x="645.9" y="332.5"/>
<use href="#tlb" x="649.2" y="333.1"/>
<use href="#tlb" x="652.5" y="330.6"/>
<use href="#tlb" x="655.8" y="331.3"/>
<use href="#tlb" x="659.1" y="328.8"/>
<use href="#tlb" x="662.4" y="329.4"/>
<use href="#tlb" x="665.7" y="327"/>
<use href="#tlb" x="669" y="327.5"/>
<use href="#tlb" x="672.3" y="324.9"/>
<use href="#tlb" x="675.6" y="325.5"/>
<use href="#tlb" x="678.9" y="322.9"/>
<use href="#tlb" x="682.2" y="323.2"/>
<use href="#tlb" x="685.5" y="320.4"/>
<use href="#tlb" x="688.8" y="320.6"/>
<use href="#tlb" x="692.1" y="317.8"/>
<use href="#tlb" x="695.4" y="318"/>
<use href="#tlb" x="698.7" y="314.4"/>
<use href="#tlb" x="702" y="313.5"/>
<use href="#tlb" x="705.3" y="309.5"/>
<use href="#tlb" x="708.6" y="308.6"/>
<use href="#tlb" x="711.9" y="305.2"/>
<use href="#tlb" x="715.2" y="305.1"/>
<use href="#tlb" x="718.5" y="301.8"/>
<use href="#tlb" x="721.8" y="301.7"/>
<use href="#tlb" x="725.1" y="298.4"/>
<use href="#tlb" x="728.4" y="298.2"/>
<use href="#tlb" x="731.7" y="295"/>
<use href="#tlb" x="735" y="294.8"/>
<use href="#tlb" x="738.3" y="291.7"/>
<use href="#tlb" x="741.6" y="291.6"/>
<use href="#tlb" x="744.9" y="288.6"/>
<use href="#tlb" x="748.2" y="288.8"/>
<use href="#tlb" x="751.5" y="286.5"/>
<use href="#tlb" x="754.7" y="287.2"/>
<use href="#tlb" x="758" y="284.9"/>
<use href="#tlb" x="761.3" y="285.6"/>
<use href="#tlb" x="764.6" y="283.2"/>
<use href="#tlb" x="767.9" y="283.9"/>
<use href="#tlb" x="771.2" y="282.6"/>
<use href="#tlb" x="774.5" y="282.8"/>
<use href="#tlb" x="777.8" y="282.4"/>
<use href="#tlb" x="781.1" y="282.6"/>
<use href="#tlb" x="784.4" y="282.1"/>
<use href="#tlb" x="787.7" y="282.5"/>
<use href="#tlb" x="791" y="282.1"/>
<use href="#tlb" x="794.3" y="282.5"/>
<use href="#tlb" x="797.6" y="282.1"/>
<use href="#tlb" x="800.9" y="282.5"/>
<use href="#tlb" x="804.2" y="282.1"/>
<use href="#tlb" x="807.5" y="282.5"/>
<use href="#tlb" x="810.8" y="282.1"/>
<use href="#tlb" x="814.1" y="282.5"/>
<use href="#tlb" x="817.4" y="282.1"/>
<use href="#tlb" x="820.7" y="282.5"/>
</g>
<path d="M771.2 263.6V470.4" stroke="#000" stroke-width="2.6" stroke-dasharray="11.6 6.4" stroke-dashoffset="2.85" fill="none"/>
<g fill="#fff" stroke="#40e0d0" stroke-width="1.0">
<use href="#tr" x="452.5" y="387.6"/>
<use href="#tr" x="454.7" y="386.5"/>
<use href="#tr" x="456.9" y="386.8"/>
<use href="#tr" x="459.1" y="385.3"/>
<use href="#tr" x="461.3" y="384.9"/>
<use href="#tr" x="463.5" y="384.8"/>
<use href="#tr" x="465.7" y="383.1"/>
<use href="#tr" x="467.8" y="383.3"/>
<use href="#tr" x="470" y="382.6"/>
<use href="#tr" x="472.2" y="381.3"/>
<use href="#tr" x="474.4" y="381.7"/>
<use href="#tr" x="476.6" y="380.3"/>
<use href="#tr" x="478.8" y="379.6"/>
<use href="#tr" x="481" y="379.7"/>
<use href="#tr" x="483.2" y="378"/>
<use href="#tr" x="485.4" y="378.1"/>
<use href="#tr" x="487.6" y="377.5"/>
<use href="#tr" x="489.8" y="376.1"/>
<use href="#tr" x="492" y="376.4"/>
<use href="#tr" x="494.2" y="375.2"/>
<use href="#tr" x="496.4" y="374.3"/>
<use href="#tr" x="498.6" y="374.6"/>
<use href="#tr" x="500.8" y="373"/>
<use href="#tr" x="503" y="372.8"/>
<use href="#tr" x="505.2" y="372.5"/>
<use href="#tr" x="507.4" y="370.9"/>
<use href="#tr" x="509.6" y="371.2"/>
<use href="#tr" x="511.8" y="370.3"/>
<use href="#tr" x="514" y="369.2"/>
<use href="#tr" x="516.2" y="369.6"/>
<use href="#tr" x="518.4" y="368.1"/>
<use href="#tr" x="520.6" y="367.7"/>
<use href="#tr" x="522.8" y="367.7"/>
<use href="#tr" x="525" y="366.1"/>
<use href="#tr" x="527.2" y="366.3"/>
<use href="#tr" x="529.4" y="365.6"/>
<use href="#tr" x="531.6" y="364.3"/>
<use href="#tr" x="533.8" y="364.7"/>
<use href="#tr" x="536" y="363.4"/>
<use href="#tr" x="538.2" y="362.8"/>
<use href="#tr" x="540.4" y="362.9"/>
<use href="#tr" x="542.6" y="361.3"/>
<use href="#tr" x="544.8" y="361.3"/>
<use href="#tr" x="547" y="360.8"/>
<use href="#tr" x="549.2" y="359.4"/>
<use href="#tr" x="551.4" y="359.8"/>
<use href="#tr" x="553.6" y="358.6"/>
<use href="#tr" x="555.8" y="357.8"/>
<use href="#tr" x="558" y="358.1"/>
<use href="#tr" x="560.2" y="356.5"/>
<use href="#tr" x="562.4" y="356.4"/>
<use href="#tr" x="564.6" y="356.1"/>
<use href="#tr" x="566.8" y="354.5"/>
<use href="#tr" x="569" y="354.9"/>
<use href="#tr" x="571.2" y="353.9"/>
<use href="#tr" x="573.4" y="352.8"/>
<use href="#tr" x="575.6" y="353.4"/>
<use href="#tr" x="577.8" y="351.7"/>
<use href="#tr" x="580" y="351.4"/>
<use href="#tr" x="582.2" y="351.5"/>
<use href="#tr" x="584.4" y="349.6"/>
<use href="#tr" x="586.6" y="350"/>
<use href="#tr" x="588.8" y="349.3"/>
<use href="#tr" x="591" y="347.8"/>
<use href="#tr" x="593.2" y="348.6"/>
<use href="#tr" x="595.4" y="346.9"/>
<use href="#tr" x="597.6" y="346.3"/>
<use href="#tr" x="599.8" y="346.8"/>
<use href="#tr" x="602" y="344.7"/>
<use href="#tr" x="604.2" y="345.1"/>
<use href="#tr" x="606.4" y="344.7"/>
<use href="#tr" x="608.6" y="342.7"/>
<use href="#tr" x="610.7" y="343.8"/>
<use href="#tr" x="612.9" y="342.2"/>
<use href="#tr" x="615.1" y="341.2"/>
<use href="#tr" x="617.3" y="342.2"/>
<use href="#tr" x="619.5" y="339.8"/>
<use href="#tr" x="621.7" y="340"/>
<use href="#tr" x="623.9" y="340.1"/>
<use href="#tr" x="626.1" y="337.7"/>
<use href="#tr" x="628.3" y="338.9"/>
<use href="#tr" x="630.5" y="337.6"/>
<use href="#tr" x="632.7" y="336.1"/>
<use href="#tr" x="634.9" y="337.4"/>
<use href="#tr" x="637.1" y="335"/>
<use href="#tr" x="639.3" y="334.9"/>
<use href="#tr" x="641.5" y="335.4"/>
<use href="#tr" x="643.7" y="332.7"/>
<use href="#tr" x="645.9" y="333.8"/>
<use href="#tr" x="648.1" y="333"/>
<use href="#tr" x="650.3" y="330.9"/>
<use href="#tr" x="652.5" y="332.5"/>
<use href="#tr" x="654.7" y="330.3"/>
<use href="#tr" x="656.9" y="329.7"/>
<use href="#tr" x="659.1" y="330.8"/>
<use href="#tr" x="661.3" y="327.8"/>
<use href="#tr" x="663.5" y="328.7"/>
<use href="#tr" x="665.7" y="328.4"/>
<use href="#tr" x="667.9" y="325.8"/>
<use href="#tr" x="670.1" y="327.5"/>
<use href="#tr" x="672.3" y="325.5"/>
<use href="#tr" x="674.5" y="324.2"/>
<use href="#tr" x="676.7" y="325.7"/>
<use href="#tr" x="678.9" y="322.7"/>
<use href="#tr" x="681.1" y="322.9"/>
<use href="#tr" x="683.3" y="322.9"/>
<use href="#tr" x="685.5" y="319.8"/>
<use href="#tr" x="687.7" y="321.2"/>
<use href="#tr" x="689.9" y="319.5"/>
<use href="#tr" x="692.1" y="317.5"/>
<use href="#tr" x="694.3" y="319"/>
<use href="#tr" x="696.5" y="316"/>
<use href="#tr" x="698.7" y="314.9"/>
<use href="#tr" x="700.9" y="314.6"/>
<use href="#tr" x="703.1" y="310.6"/>
<use href="#tr" x="705.3" y="310.9"/>
<use href="#tr" x="707.5" y="309"/>
<use href="#tr" x="709.7" y="306"/>
<use href="#tr" x="711.9" y="307.2"/>
<use href="#tr" x="714.1" y="304.4"/>
<use href="#tr" x="716.3" y="303.2"/>
<use href="#tr" x="718.5" y="303.8"/>
<use href="#tr" x="720.7" y="300.3"/>
<use href="#tr" x="722.9" y="300.7"/>
<use href="#tr" x="725.1" y="299.8"/>
<use href="#tr" x="727.3" y="296.7"/>
<use href="#tr" x="729.5" y="298"/>
<use href="#tr" x="731.7" y="295.5"/>
<use href="#tr" x="733.9" y="293.8"/>
<use href="#tr" x="736.1" y="294.8"/>
<use href="#tr" x="738.3" y="291.4"/>
<use href="#tr" x="740.5" y="291.5"/>
<use href="#tr" x="742.7" y="291.3"/>
<use href="#tr" x="744.9" y="287.9"/>
<use href="#tr" x="747.1" y="289.4"/>
<use href="#tr" x="749.3" y="287.9"/>
<use href="#tr" x="751.5" y="285.3"/>
<use href="#tr" x="753.6" y="290"/>
<use href="#tr" x="755.8" y="283.6"/>
<use href="#tr" x="758" y="284.7"/>
<use href="#tr" x="760.2" y="289.8"/>
<use href="#tr" x="762.4" y="278.9"/>
<use href="#tr" x="764.6" y="286.7"/>
<use href="#tr" x="766.8" y="284.8"/>
<use href="#tr" x="769" y="279.4"/>
<use href="#tr" x="771.2" y="285.5"/>
</g>
<path d="M296.5 268.78V471.4" stroke="#f00" stroke-width="2.4" stroke-dasharray="2.2 6.83" fill="none"/>
<path d="M391.3 404.2L692.4 320.3" stroke="#f00" stroke-width="7.4" fill="none"/>
<g stroke="#000" stroke-width="1.15" fill="none">
<path d="M111.7 263.6v12.3M111.7 500.3v-12.3M177.7 263.6v6.2M177.7 500.3v-6.2M243.6 263.6v12.3M243.6 500.3v-12.3M309.6 263.6v6.2M309.6 500.3v-6.2M375.5 263.6v12.3M375.5 500.3v-12.3M441.5 263.6v6.2M441.5 500.3v-6.2M507.4 263.6v12.3M507.4 500.3v-12.3M573.4 263.6v6.2M573.4 500.3v-6.2M639.3 263.6v12.3M639.3 500.3v-12.3M705.3 263.6v6.2M705.3 500.3v-6.2M771.2 263.6v12.3M771.2 500.3v-12.3M111.7 470.4h12.3M824 470.4h-12.3M111.7 432.8h6.2M824 432.8h-6.2M111.7 395.2h12.3M824 395.2h-12.3M111.7 357.5h6.2M824 357.5h-6.2M111.7 319.9h12.3M824 319.9h-12.3M111.7 282.3h6.2M824 282.3h-6.2"/>
</g>
<rect x="111.7" y="263.6" width="712.3" height="236.7" fill="none" stroke="#000" stroke-width="1.3"/>
<text x="402.5" y="304.9" font-size="35.9" xml:space="preserve">(b)  Δ=-0.3</text>
<rect x="633.1" y="381.2" width="133.8" height="112.2" fill="#fff" stroke="#000" stroke-width="1.2"/>
<use href="#di" x="663.4" y="398.9" fill="#fff" stroke="#000" stroke-width="1.1"/>
<text x="702.5" y="406.5" font-size="21.3">t=40</text>
<use href="#ci" x="663.4" y="424.5" fill="#fff" stroke="#0000ff" stroke-width="1.1"/>
<text x="702.5" y="432.1" font-size="21.3">t=60</text>
<use href="#tlb" x="663.4" y="450" fill="#fff" stroke="#58ae58" stroke-width="0.8"/>
<text x="702.5" y="457.6" font-size="21.3">t=80</text>
<use href="#tr" x="663.4" y="475.6" fill="#fff" stroke="#40e0d0" stroke-width="1.0"/>
<text x="702.5" y="483.2" font-size="21.3">t=120</text>
<text x="103.8" y="478.3" text-anchor="end" font-size="22">0</text>
<text x="103.8" y="403.1" text-anchor="end" font-size="22">0.2</text>
<text x="103.8" y="327.8" text-anchor="end" font-size="22">0.4</text>
<text x="2.3" y="392.1" font-size="28.5">&lt;</text>
<text x="18.6" y="390.6" font-size="28.5">S</text>
<text x="37.6" y="372.6" font-size="17.5">z</text>
<text x="37.4" y="400.7" font-size="17.5">i</text>
<text x="47.9" y="392.1" font-size="28.5">&gt;</text>
<g fill="#fff" stroke="#000" stroke-width="1.1">
<use href="#di" x="112.8" y="734.4"/>
<use href="#di" x="119.4" y="734.4"/>
<use href="#di" x="126" y="734.4"/>
<use href="#di" x="132.6" y="734.4"/>
<use href="#di" x="139.2" y="734.4"/>
<use href="#di" x="145.7" y="734.4"/>
<use href="#di" x="152.3" y="734.4"/>
<use href="#di" x="158.9" y="734.4"/>
<use href="#di" x="165.5" y="734.4"/>
<use href="#di" x="172.1" y="734.4"/>
<use href="#di" x="178.7" y="734.4"/>
<use href="#di" x="185.3" y="734.4"/>
<use href="#di" x="191.9" y="734.4"/>
<use href="#di" x="198.5" y="734.4"/>
<use href="#di" x="205.1" y="734.4"/>
<use href="#di" x="211.6" y="734.4"/>
<use href="#di" x="218.2" y="734.4"/>
<use href="#di" x="224.8" y="734.4"/>
<use href="#di" x="231.4" y="734.4"/>
<use href="#di" x="238" y="734.4"/>
<use href="#di" x="244.6" y="734.4"/>
<use href="#di" x="251.2" y="734.4"/>
<use href="#di" x="257.8" y="734.4"/>
<use href="#di" x="264.4" y="733.9"/>
<use href="#di" x="271" y="731.7"/>
<use href="#di" x="277.5" y="727.6"/>
<use href="#di" x="284.1" y="710.9"/>
<use href="#di" x="290.7" y="708.2"/>
<use href="#di" x="297.3" y="706.4"/>
<use href="#di" x="303.9" y="699.8"/>
<use href="#di" x="310.5" y="700.8"/>
<use href="#di" x="317.1" y="702.8"/>
<use href="#di" x="323.7" y="693.2"/>
<use href="#di" x="330.3" y="685.5"/>
<use href="#di" x="336.9" y="689.6"/>
<use href="#di" x="343.4" y="687.5"/>
<use href="#di" x="350" y="678.7"/>
<use href="#di" x="356.6" y="679.6"/>
<use href="#di" x="363.2" y="681.2"/>
<use href="#di" x="369.8" y="672.9"/>
<use href="#di" x="376.4" y="669.5"/>
<use href="#di" x="383" y="673.6"/>
<use href="#di" x="389.6" y="669.5"/>
<use href="#di" x="396.2" y="663.1"/>
<use href="#di" x="402.8" y="665.7"/>
<use href="#di" x="409.3" y="665.7"/>
<use href="#di" x="415.9" y="658.5"/>
<use href="#di" x="422.5" y="657.6"/>
<use href="#di" x="429.1" y="660.3"/>
<use href="#di" x="435.7" y="655"/>
<use href="#di" x="442.3" y="650.6"/>
<use href="#di" x="448.9" y="653.3"/>
<use href="#di" x="455.5" y="651.4"/>
<use href="#di" x="462.1" y="645.1"/>
<use href="#di" x="468.7" y="645.7"/>
<use href="#di" x="475.2" y="646.9"/>
<use href="#di" x="481.8" y="641.2"/>
<use href="#di" x="488.4" y="638.6"/>
<use href="#di" x="495" y="641"/>
<use href="#di" x="501.6" y="637.7"/>
<use href="#di" x="508.2" y="632.6"/>
<use href="#di" x="514.8" y="634.1"/>
<use href="#di" x="521.4" y="633.7"/>
<use href="#di" x="528" y="628"/>
<use href="#di" x="534.5" y="627"/>
<use href="#di" x="541.1" y="628.5"/>
<use href="#di" x="547.7" y="624.3"/>
<use href="#di" x="554.3" y="620.6"/>
<use href="#di" x="560.9" y="622.3"/>
<use href="#di" x="567.5" y="620.5"/>
<use href="#di" x="574.1" y="615.3"/>
<use href="#di" x="580.7" y="615.4"/>
<use href="#di" x="587.3" y="615.9"/>
<use href="#di" x="593.9" y="611.1"/>
<use href="#di" x="600.4" y="608.7"/>
<use href="#di" x="607" y="610.2"/>
<use href="#di" x="613.6" y="607.3"/>
<use href="#di" x="620.2" y="602.9"/>
<use href="#di" x="626.8" y="603.7"/>
<use href="#di" x="633.4" y="603"/>
<use href="#di" x="640" y="598.1"/>
<use href="#di" x="646.6" y="596.9"/>
<use href="#di" x="653.2" y="597.8"/>
<use href="#di" x="659.8" y="594"/>
<use href="#di" x="666.3" y="590.6"/>
<use href="#di" x="672.9" y="592.2"/>
<use href="#di" x="679.5" y="589.1"/>
<use href="#di" x="686.1" y="583.1"/>
<use href="#di" x="692.7" y="582.6"/>
<use href="#di" x="699.3" y="583.5"/>
<use href="#di" x="705.9" y="579.5"/>
<use href="#di" x="712.5" y="576.7"/>
<use href="#di" x="719.1" y="575.7"/>
<use href="#di" x="725.7" y="569"/>
<use href="#di" x="732.2" y="560.7"/>
<use href="#di" x="738.8" y="558.8"/>
<use href="#di" x="745.4" y="557.6"/>
<use href="#di" x="752" y="554"/>
<use href="#di" x="758.6" y="553.3"/>
<use href="#di" x="765.2" y="553.9"/>
<use href="#di" x="771.8" y="547.4"/>
<use href="#di" x="778.4" y="544.1"/>
<use href="#di" x="785" y="544.2"/>
<use href="#di" x="791.6" y="544.1"/>
<use href="#di" x="798.1" y="543.8"/>
<use href="#di" x="804.7" y="543.8"/>
<use href="#di" x="811.3" y="543.9"/>
<use href="#di" x="817.9" y="543.5"/>
</g>
<g fill="#fff" stroke="#0000ff" stroke-width="1.1">
<use href="#ci" x="244.6" y="734.4"/>
<use href="#ci" x="249" y="734.4"/>
<use href="#ci" x="253.4" y="734.4"/>
<use href="#ci" x="257.8" y="734.4"/>
<use href="#ci" x="262.2" y="734.4"/>
<use href="#ci" x="266.6" y="733.2"/>
<use href="#ci" x="271" y="733.4"/>
<use href="#ci" x="275.3" y="731.3"/>
<use href="#ci" x="279.7" y="727.5"/>
<use href="#ci" x="284.1" y="719.1"/>
<use href="#ci" x="288.5" y="710.5"/>
<use href="#ci" x="292.9" y="703.9"/>
<use href="#ci" x="297.3" y="702.7"/>
<use href="#ci" x="301.7" y="707.5"/>
<use href="#ci" x="306.1" y="706.9"/>
<use href="#ci" x="310.5" y="700.4"/>
<use href="#ci" x="314.9" y="693.7"/>
<use href="#ci" x="319.3" y="697.4"/>
<use href="#ci" x="323.7" y="698.5"/>
<use href="#ci" x="328.1" y="693.7"/>
<use href="#ci" x="332.5" y="685.7"/>
<use href="#ci" x="336.9" y="685.4"/>
<use href="#ci" x="341.2" y="690.4"/>
<use href="#ci" x="345.6" y="685.8"/>
<use href="#ci" x="350" y="679.2"/>
<use href="#ci" x="354.4" y="682.3"/>
<use href="#ci" x="358.8" y="683.6"/>
<use href="#ci" x="363.2" y="676"/>
<use href="#ci" x="367.6" y="673.2"/>
<use href="#ci" x="372" y="677.4"/>
<use href="#ci" x="376.4" y="675"/>
<use href="#ci" x="380.8" y="668.3"/>
<use href="#ci" x="385.2" y="669.9"/>
<use href="#ci" x="389.6" y="672.9"/>
<use href="#ci" x="394" y="667.4"/>
<use href="#ci" x="398.4" y="663.5"/>
<use href="#ci" x="402.8" y="667.2"/>
<use href="#ci" x="407.1" y="666.9"/>
<use href="#ci" x="411.5" y="660.4"/>
<use href="#ci" x="415.9" y="660.1"/>
<use href="#ci" x="420.3" y="663.5"/>
<use href="#ci" x="424.7" y="659.8"/>
<use href="#ci" x="429.1" y="654.8"/>
<use href="#ci" x="433.5" y="657.2"/>
<use href="#ci" x="437.9" y="658.3"/>
<use href="#ci" x="442.3" y="652.6"/>
<use href="#ci" x="446.7" y="650.6"/>
<use href="#ci" x="451.1" y="653.9"/>
<use href="#ci" x="455.5" y="651.8"/>
<use href="#ci" x="459.9" y="646.5"/>
<use href="#ci" x="464.3" y="647.5"/>
<use href="#ci" x="468.7" y="649.5"/>
<use href="#ci" x="473" y="645.1"/>
<use href="#ci" x="477.4" y="641.8"/>
<use href="#ci" x="481.8" y="644.5"/>
<use href="#ci" x="486.2" y="644"/>
<use href="#ci" x="490.6" y="638.7"/>
<use href="#ci" x="495" y="638.2"/>
<use href="#ci" x="499.4" y="640.7"/>
<use href="#ci" x="503.8" y="637.6"/>
<use href="#ci" x="508.2" y="633.4"/>
<use href="#ci" x="512.6" y="635.2"/>
<use href="#ci" x="517" y="635.9"/>
<use href="#ci" x="521.4" y="631.1"/>
<use href="#ci" x="525.8" y="629.3"/>
<use href="#ci" x="530.2" y="631.8"/>
<use href="#ci" x="534.5" y="630"/>
<use href="#ci" x="538.9" y="625.4"/>
<use href="#ci" x="543.3" y="626"/>
<use href="#ci" x="547.7" y="627.5"/>
<use href="#ci" x="552.1" y="623.7"/>
<use href="#ci" x="556.5" y="620.8"/>
<use href="#ci" x="560.9" y="622.8"/>
<use href="#ci" x="565.3" y="622.2"/>
<use href="#ci" x="569.7" y="617.6"/>
<use href="#ci" x="574.1" y="617"/>
<use href="#ci" x="578.5" y="619"/>
<use href="#ci" x="582.9" y="616.1"/>
<use href="#ci" x="587.3" y="612.5"/>
<use href="#ci" x="591.7" y="613.8"/>
<use href="#ci" x="596.1" y="614.2"/>
<use href="#ci" x="600.4" y="610"/>
<use href="#ci" x="604.8" y="608.3"/>
<use href="#ci" x="609.2" y="610.2"/>
<use href="#ci" x="613.6" y="608.5"/>
<use href="#ci" x="618" y="604.4"/>
<use href="#ci" x="622.4" y="604.7"/>
<use href="#ci" x="626.8" y="605.9"/>
<use href="#ci" x="631.2" y="602.4"/>
<use href="#ci" x="635.6" y="599.6"/>
<use href="#ci" x="640" y="601.3"/>
<use href="#ci" x="644.4" y="600.6"/>
<use href="#ci" x="648.8" y="596.4"/>
<use href="#ci" x="653.2" y="595.7"/>
<use href="#ci" x="657.6" y="597.3"/>
<use href="#ci" x="662" y="594.6"/>
<use href="#ci" x="666.3" y="591.2"/>
<use href="#ci" x="670.7" y="590"/>
<use href="#ci" x="675.1" y="590.5"/>
<use href="#ci" x="679.5" y="587.7"/>
<use href="#ci" x="683.9" y="586.9"/>
<use href="#ci" x="688.3" y="589.2"/>
<use href="#ci" x="692.7" y="587.4"/>
<use href="#ci" x="697.1" y="582.5"/>
<use href="#ci" x="701.5" y="580.4"/>
<use href="#ci" x="705.9" y="578.9"/>
<use href="#ci" x="710.3" y="573.6"/>
<use href="#ci" x="714.7" y="570.1"/>
<use href="#ci" x="719.1" y="571.5"/>
<use href="#ci" x="723.5" y="571.3"/>
<use href="#ci" x="727.8" y="567.8"/>
<use href="#ci" x="732.2" y="567.1"/>
<use href="#ci" x="736.6" y="567.3"/>
<use href="#ci" x="741" y="562.5"/>
<use href="#ci" x="745.4" y="556.4"/>
<use href="#ci" x="749.8" y="554.7"/>
<use href="#ci" x="754.2" y="553.2"/>
<use href="#ci" x="758.6" y="548.8"/>
<use href="#ci" x="763" y="547.8"/>
<use href="#ci" x="767.4" y="550.8"/>
<use href="#ci" x="771.8" y="547.5"/>
<use href="#ci" x="776.2" y="544.6"/>
<use href="#ci" x="780.6" y="544.2"/>
<use href="#ci" x="785" y="544.3"/>
<use href="#ci" x="789.4" y="544"/>
<use href="#ci" x="793.7" y="543.9"/>
<use href="#ci" x="798.1" y="544"/>
<use href="#ci" x="802.5" y="544"/>
<use href="#ci" x="806.9" y="543.7"/>
<use href="#ci" x="811.3" y="543.6"/>
<use href="#ci" x="815.7" y="543.8"/>
<use href="#ci" x="820.1" y="543.6"/>
</g>
<g fill="#fff" stroke="#008b00" stroke-width="1.2">
<use href="#tl" x="310.5" y="700"/>
<use href="#tl" x="330.3" y="687.4"/>
<use href="#tl" x="333.6" y="691.5"/>
<use href="#tl" x="336.9" y="684.8"/>
<use href="#tl" x="340.1" y="689.4"/>
<use href="#tl" x="343.4" y="683.1"/>
<use href="#tl" x="346.7" y="687.2"/>
<use href="#tl" x="350" y="680.9"/>
<use href="#tl" x="353.3" y="684.4"/>
<use href="#tl" x="356.6" y="678.4"/>
<use href="#tl" x="359.9" y="681.6"/>
<use href="#tl" x="363.2" y="675.9"/>
<use href="#tl" x="366.5" y="678.8"/>
<use href="#tl" x="369.8" y="673.4"/>
<use href="#tl" x="373.1" y="676"/>
<use href="#tl" x="376.4" y="671.2"/>
<use href="#tl" x="379.7" y="674"/>
<use href="#tl" x="383" y="669.4"/>
<use href="#tl" x="386.3" y="672"/>
<use href="#tl" x="389.6" y="667.6"/>
<use href="#tl" x="392.9" y="670"/>
<use href="#tl" x="396.2" y="665.8"/>
<use href="#tl" x="399.5" y="668"/>
<use href="#tl" x="402.8" y="664"/>
<use href="#tl" x="406" y="666.1"/>
<use href="#tl" x="409.3" y="662.2"/>
<use href="#tl" x="412.6" y="664.1"/>
<use href="#tl" x="415.9" y="660.4"/>
<use href="#tl" x="419.2" y="662.1"/>
<use href="#tl" x="422.5" y="658.5"/>
<use href="#tl" x="425.8" y="660.2"/>
<use href="#tl" x="429.1" y="656.7"/>
<use href="#tl" x="432.4" y="658.2"/>
<use href="#tl" x="435.7" y="654.8"/>
<use href="#tl" x="439" y="656.3"/>
<use href="#tl" x="442.3" y="653"/>
<use href="#tl" x="445.6" y="654.4"/>
<use href="#tl" x="448.9" y="651.1"/>
<use href="#tl" x="452.2" y="652.4"/>
<use href="#tl" x="455.5" y="649.3"/>
<use href="#tl" x="458.8" y="650.6"/>
<use href="#tl" x="462.1" y="647.5"/>
<use href="#tl" x="465.4" y="648.7"/>
<use href="#tl" x="468.7" y="645.7"/>
<use href="#tl" x="471.9" y="646.9"/>
<use href="#tl" x="475.2" y="643.9"/>
<use href="#tl" x="478.5" y="645"/>
<use href="#tl" x="481.8" y="642.2"/>
<use href="#tl" x="485.1" y="643.2"/>
<use href="#tl" x="488.4" y="640.4"/>
<use href="#tl" x="491.7" y="641.4"/>
<use href="#tl" x="495" y="638.6"/>
<use href="#tl" x="498.3" y="639.6"/>
<use href="#tl" x="501.6" y="636.8"/>
<use href="#tl" x="504.9" y="637.7"/>
<use href="#tl" x="508.2" y="635"/>
<use href="#tl" x="511.5" y="635.9"/>
<use href="#tl" x="514.8" y="633.2"/>
<use href="#tl" x="518.1" y="634.1"/>
<use href="#tl" x="521.4" y="631.5"/>
<use href="#tl" x="524.7" y="632.4"/>
<use href="#tl" x="528" y="629.7"/>
<use href="#tl" x="531.3" y="630.6"/>
<use href="#tl" x="534.5" y="627.9"/>
<use href="#tl" x="537.8" y="628.8"/>
<use href="#tl" x="541.1" y="626.2"/>
<use href="#tl" x="544.4" y="627"/>
<use href="#tl" x="547.7" y="624.4"/>
<use href="#tl" x="551" y="625.2"/>
<use href="#tl" x="554.3" y="622.6"/>
<use href="#tl" x="557.6" y="623.4"/>
<use href="#tl" x="560.9" y="620.9"/>
<use href="#tl" x="564.2" y="621.6"/>
<use href="#tl" x="567.5" y="619.1"/>
<use href="#tl" x="570.8" y="619.8"/>
<use href="#tl" x="574.1" y="617.3"/>
<use href="#tl" x="577.4" y="618.1"/>
<use href="#tl" x="580.7" y="615.5"/>
<use href="#tl" x="584" y="616.3"/>
<use href="#tl" x="587.3" y="613.8"/>
<use href="#tl" x="590.6" y="614.5"/>
<use href="#tl" x="593.9" y="612"/>
<use href="#tl" x="597.2" y="612.7"/>
<use href="#tl" x="600.4" y="610.2"/>
<use href="#tl" x="603.7" y="610.9"/>
<use href="#tl" x="607" y="608.4"/>
<use href="#tl" x="610.3" y="609.2"/>
<use href="#tl" x="613.6" y="606.7"/>
<use href="#tl" x="616.9" y="607.4"/>
<use href="#tl" x="620.2" y="604.9"/>
<use href="#tl" x="623.5" y="605.6"/>
<use href="#tl" x="626.8" y="603.1"/>
<use href="#tl" x="630.1" y="603.8"/>
<use href="#tl" x="633.4" y="601.3"/>
<use href="#tl" x="636.7" y="602"/>
<use href="#tl" x="640" y="599.5"/>
<use href="#tl" x="643.3" y="600.2"/>
<use href="#tl" x="646.6" y="597.7"/>
<use href="#tl" x="649.9" y="598.4"/>
<use href="#tl" x="653.2" y="595.9"/>
<use href="#tl" x="656.5" y="596.6"/>
<use href="#tl" x="659.8" y="594.1"/>
<use href="#tl" x="663" y="594.8"/>
<use href="#tl" x="666.3" y="592.3"/>
<use href="#tl" x="669.6" y="593"/>
<use href="#tl" x="672.9" y="590.5"/>
<use href="#tl" x="676.2" y="591.2"/>
<use href="#tl" x="679.5" y="588.7"/>
<use href="#tl" x="682.8" y="588.9"/>
<use href="#tl" x="686.1" y="586.1"/>
<use href="#tl" x="689.4" y="586.3"/>
<use href="#tl" x="692.7" y="583.4"/>
<use href="#tl" x="696" y="583.6"/>
<use href="#tl" x="699.3" y="580.5"/>
<use href="#tl" x="702.6" y="580.4"/>
<use href="#tl" x="705.9" y="577.2"/>
<use href="#tl" x="709.2" y="577.1"/>
<use href="#tl" x="712.5" y="574.2"/>
<use href="#tl" x="715.8" y="574.3"/>
<use href="#tl" x="719.1" y="571.4"/>
<use href="#tl" x="722.4" y="571.6"/>
<use href="#tl" x="725.7" y="568.4"/>
<use href="#tl" x="728.9" y="568.2"/>
<use href="#tl" x="732.2" y="565.1"/>
<use href="#tl" x="735.5" y="564.9"/>
<use href="#tl" x="738.8" y="561.3"/>
<use href="#tl" x="742.1" y="560.9"/>
<use href="#tl" x="745.4" y="557.4"/>
<use href="#tl" x="748.7" y="557.1"/>
<use href="#tl" x="752" y="554"/>
<use href="#tl" x="755.3" y="554"/>
<use href="#tl" x="758.6" y="551"/>
<use href="#tl" x="761.9" y="551.4"/>
<use href="#tl" x="765.2" y="549"/>
<use href="#tl" x="768.5" y="549.6"/>
<use href="#tl" x="771.8" y="547.2"/>
<use href="#tl" x="775.1" y="545.6"/>
<use href="#tl" x="778.4" y="544.1"/>
<use href="#tl" x="781.7" y="544.3"/>
<use href="#tl" x="785" y="544"/>
<use href="#tl" x="788.3" y="544.2"/>
<use href="#tl" x="791.6" y="543.9"/>
<use href="#tl" x="794.8" y="544.1"/>
<use href="#tl" x="798.1" y="543.8"/>
<use href="#tl" x="801.4" y="544"/>
<use href="#tl" x="804.7" y="543.7"/>
<use href="#tl" x="808" y="543.9"/>
<use href="#tl" x="811.3" y="543.6"/>
<use href="#tl" x="814.6" y="543.8"/>
<use href="#tl" x="817.9" y="543.5"/>
<use href="#tl" x="821.2" y="543.7"/>
</g>
<path d="M771.8 524.5V764.5" stroke="#000" stroke-width="2.6" stroke-dasharray="11.6 6.4" stroke-dashoffset="5.1" fill="none"/>
<g fill="#fff" stroke="#40e0d0" stroke-width="1.0">
<use href="#tr" x="470.8" y="646.3"/>
<use href="#tr" x="473" y="645"/>
<use href="#tr" x="475.2" y="645.5"/>
<use href="#tr" x="477.4" y="644.1"/>
<use href="#tr" x="479.6" y="643.5"/>
<use href="#tr" x="481.8" y="643.7"/>
<use href="#tr" x="484" y="642"/>
<use href="#tr" x="486.2" y="642.1"/>
<use href="#tr" x="488.4" y="641.6"/>
<use href="#tr" x="490.6" y="640.2"/>
<use href="#tr" x="492.8" y="640.6"/>
<use href="#tr" x="495" y="639.4"/>
<use href="#tr" x="497.2" y="638.6"/>
<use href="#tr" x="499.4" y="638.9"/>
<use href="#tr" x="501.6" y="637.3"/>
<use href="#tr" x="503.8" y="637.2"/>
<use href="#tr" x="506" y="636.9"/>
<use href="#tr" x="508.2" y="635.3"/>
<use href="#tr" x="510.4" y="635.7"/>
<use href="#tr" x="512.6" y="634.8"/>
<use href="#tr" x="514.8" y="633.7"/>
<use href="#tr" x="517" y="634.1"/>
<use href="#tr" x="519.2" y="632.6"/>
<use href="#tr" x="521.4" y="632.3"/>
<use href="#tr" x="523.6" y="632.2"/>
<use href="#tr" x="525.8" y="630.6"/>
<use href="#tr" x="528" y="630.9"/>
<use href="#tr" x="530.2" y="630.2"/>
<use href="#tr" x="532.4" y="628.9"/>
<use href="#tr" x="534.5" y="629.3"/>
<use href="#tr" x="536.7" y="628"/>
<use href="#tr" x="538.9" y="627.4"/>
<use href="#tr" x="541.1" y="627.6"/>
<use href="#tr" x="543.3" y="625.9"/>
<use href="#tr" x="545.5" y="626"/>
<use href="#tr" x="547.7" y="625.5"/>
<use href="#tr" x="549.9" y="624.1"/>
<use href="#tr" x="552.1" y="624.5"/>
<use href="#tr" x="554.3" y="623.4"/>
<use href="#tr" x="556.5" y="622.5"/>
<use href="#tr" x="558.7" y="622.9"/>
<use href="#tr" x="560.9" y="621.3"/>
<use href="#tr" x="563.1" y="621.1"/>
<use href="#tr" x="565.3" y="620.9"/>
<use href="#tr" x="567.5" y="619.3"/>
<use href="#tr" x="569.7" y="619.8"/>
<use href="#tr" x="571.9" y="618.8"/>
<use href="#tr" x="574.1" y="617.6"/>
<use href="#tr" x="576.3" y="618.2"/>
<use href="#tr" x="578.5" y="616.5"/>
<use href="#tr" x="580.7" y="616.2"/>
<use href="#tr" x="582.9" y="616.4"/>
<use href="#tr" x="585.1" y="614.4"/>
<use href="#tr" x="587.3" y="615"/>
<use href="#tr" x="589.5" y="614.2"/>
<use href="#tr" x="591.7" y="612.7"/>
<use href="#tr" x="593.9" y="613.6"/>
<use href="#tr" x="596.1" y="611.9"/>
<use href="#tr" x="598.2" y="611.3"/>
<use href="#tr" x="600.4" y="611.8"/>
<use href="#tr" x="602.6" y="609.6"/>
<use href="#tr" x="604.8" y="610.1"/>
<use href="#tr" x="607" y="609.7"/>
<use href="#tr" x="609.2" y="607.8"/>
<use href="#tr" x="611.4" y="608.8"/>
<use href="#tr" x="613.6" y="607.3"/>
<use href="#tr" x="615.8" y="606.3"/>
<use href="#tr" x="618" y="607.3"/>
<use href="#tr" x="620.2" y="604.9"/>
<use href="#tr" x="622.4" y="605.2"/>
<use href="#tr" x="624.6" y="605.2"/>
<use href="#tr" x="626.8" y="602.8"/>
<use href="#tr" x="629" y="604"/>
<use href="#tr" x="631.2" y="602.8"/>
<use href="#tr" x="633.4" y="601.3"/>
<use href="#tr" x="635.6" y="602.6"/>
<use href="#tr" x="637.8" y="600.2"/>
<use href="#tr" x="640" y="600.1"/>
<use href="#tr" x="642.2" y="600.7"/>
<use href="#tr" x="644.4" y="598"/>
<use href="#tr" x="646.6" y="599.1"/>
<use href="#tr" x="648.8" y="598.2"/>
<use href="#tr" x="651" y="596.2"/>
<use href="#tr" x="653.2" y="597.9"/>
<use href="#tr" x="655.4" y="595.6"/>
<use href="#tr" x="657.6" y="595"/>
<use href="#tr" x="659.8" y="596.1"/>
<use href="#tr" x="662" y="593.1"/>
<use href="#tr" x="664.1" y="594.1"/>
<use href="#tr" x="666.3" y="593.8"/>
<use href="#tr" x="668.5" y="591.2"/>
<use href="#tr" x="670.7" y="593"/>
<use href="#tr" x="672.9" y="591.1"/>
<use href="#tr" x="675.1" y="589.9"/>
<use href="#tr" x="677.3" y="591.4"/>
<use href="#tr" x="679.5" y="588.5"/>
<use href="#tr" x="681.7" y="588.7"/>
<use href="#tr" x="683.9" y="588.6"/>
<use href="#tr" x="686.1" y="585.5"/>
<use href="#tr" x="688.3" y="586.9"/>
<use href="#tr" x="690.5" y="585.1"/>
<use href="#tr" x="692.7" y="583.1"/>
<use href="#tr" x="694.9" y="584.6"/>
<use href="#tr" x="697.1" y="581.6"/>
<use href="#tr" x="699.3" y="581"/>
<use href="#tr" x="701.5" y="581.3"/>
<use href="#tr" x="703.7" y="577.8"/>
<use href="#tr" x="705.9" y="578.6"/>
<use href="#tr" x="708.1" y="577.3"/>
<use href="#tr" x="710.3" y="574.7"/>
<use href="#tr" x="712.5" y="576.2"/>
<use href="#tr" x="714.7" y="573.5"/>
<use href="#tr" x="716.9" y="572.6"/>
<use href="#tr" x="719.1" y="573.5"/>
<use href="#tr" x="721.3" y="570.1"/>
<use href="#tr" x="723.5" y="570.6"/>
<use href="#tr" x="725.7" y="569.8"/>
<use href="#tr" x="727.8" y="566.7"/>
<use href="#tr" x="730" y="568"/>
<use href="#tr" x="732.2" y="565.6"/>
<use href="#tr" x="734.4" y="563.9"/>
<use href="#tr" x="736.6" y="564.8"/>
<use href="#tr" x="738.8" y="561.1"/>
<use href="#tr" x="741" y="560.9"/>
<use href="#tr" x="743.2" y="560.4"/>
<use href="#tr" x="745.4" y="556.6"/>
<use href="#tr" x="747.6" y="558"/>
<use href="#tr" x="749.8" y="555.9"/>
<use href="#tr" x="752" y="552.7"/>
<use href="#tr" x="754.2" y="557.4"/>
<use href="#tr" x="756.4" y="549.9"/>
<use href="#tr" x="758.6" y="550.7"/>
<use href="#tr" x="760.8" y="556.3"/>
<use href="#tr" x="763" y="543.8"/>
<use href="#tr" x="765.2" y="552.9"/>
<use href="#tr" x="767.4" y="550.7"/>
<use href="#tr" x="769.6" y="544.7"/>
<use href="#tr" x="771.8" y="550.5"/>
</g>
<path d="M279.5 527.19V764.5" stroke="#f00" stroke-width="2.4" stroke-dasharray="2.2 6.83" fill="none"/>
<path d="M386.3 668.7L693.5 588.9" stroke="#f00" stroke-width="7.4" fill="none"/>
<g stroke="#000" stroke-width="1.15" fill="none">
<path d="M112.8 524.5v12.3M112.8 764.5v-12.3M244.6 524.5v12.3M244.6 764.5v-12.3M376.4 524.5v12.3M376.4 764.5v-12.3M508.2 524.5v12.3M508.2 764.5v-12.3M640 524.5v12.3M640 764.5v-12.3M771.8 524.5v12.3M771.8 764.5v-12.3M112.8 734.4h12.3M824.5 734.4h-12.3M112.8 696.2h6.2M824.5 696.2h-6.2M112.8 658h12.3M824.5 658h-12.3M112.8 619.9h6.2M824.5 619.9h-6.2M112.8 581.7h12.3M824.5 581.7h-12.3M112.8 543.5h6.2M824.5 543.5h-6.2"/>
</g>
<rect x="112.8" y="524.5" width="711.7" height="240" fill="none" stroke="#000" stroke-width="1.3"/>
<text x="404.6" y="568.5" font-size="35.9" xml:space="preserve">(c)  Δ=-0.2</text>
<rect x="633.9" y="645" width="133.5" height="112.2" fill="#fff" stroke="#000" stroke-width="1.2"/>
<use href="#di" x="664" y="662.8" fill="#fff" stroke="#000" stroke-width="1.1"/>
<text x="703.4" y="670.4" font-size="21.3">t=40</text>
<use href="#ci" x="664" y="688.4" fill="#fff" stroke="#0000ff" stroke-width="1.1"/>
<text x="703.4" y="696" font-size="21.3">t=60</text>
<use href="#tl" x="664" y="713.8" fill="#fff" stroke="#008b00" stroke-width="1.1"/>
<text x="703.4" y="721.4" font-size="21.3">t=80</text>
<use href="#tr" x="664" y="739.4" fill="#fff" stroke="#40e0d0" stroke-width="1.0"/>
<text x="703.4" y="747" font-size="21.3">t=120</text>
<text x="103.8" y="742.3" text-anchor="end" font-size="22">0</text>
<text x="103.8" y="665.9" text-anchor="end" font-size="22">0.2</text>
<text x="103.8" y="589.6" text-anchor="end" font-size="22">0.4</text>
<text x="2.3" y="654.6" font-size="28.5">&lt;</text>
<text x="18.6" y="653.1" font-size="28.5">S</text>
<text x="37.6" y="635.1" font-size="17.5">z</text>
<text x="37.4" y="663.2" font-size="17.5">i</text>
<text x="47.9" y="654.6" font-size="28.5">&gt;</text>
<g fill="#fff" stroke="#008b00" stroke-width="1.0">
<use href="#tu" x="112.8" y="992.6"/>
<use href="#tu" x="121.5" y="990.1"/>
<use href="#tu" x="130.3" y="991.8"/>
<use href="#tu" x="139.1" y="988.5"/>
<use href="#tu" x="147.9" y="988.5"/>
<use href="#tu" x="156.7" y="983.7"/>
<use href="#tu" x="165.5" y="983"/>
<use href="#tu" x="174.3" y="975"/>
<use href="#tu" x="183.1" y="972"/>
<use href="#tu" x="191.8" y="964.3"/>
<use href="#tu" x="200.6" y="963.9"/>
<use href="#tu" x="209.4" y="959.1"/>
<use href="#tu" x="218.2" y="959.9"/>
<use href="#tu" x="227" y="956.8"/>
<use href="#tu" x="235.8" y="958.2"/>
<use href="#tu" x="244.6" y="952"/>
<use href="#tu" x="253.4" y="952.3"/>
<use href="#tu" x="262.1" y="945.1"/>
<use href="#tu" x="270.9" y="948.4"/>
<use href="#tu" x="279.7" y="942.6"/>
<use href="#tu" x="288.5" y="945.9"/>
<use href="#tu" x="297.3" y="940.1"/>
<use href="#tu" x="306.1" y="942.9"/>
<use href="#tu" x="314.9" y="936.8"/>
<use href="#tu" x="323.7" y="939.6"/>
<use href="#tu" x="332.4" y="933.4"/>
<use href="#tu" x="341.2" y="936.2"/>
<use href="#tu" x="350" y="930.1"/>
<use href="#tu" x="358.8" y="932.9"/>
<use href="#tu" x="367.6" y="926.8"/>
<use href="#tu" x="376.4" y="929.6"/>
<use href="#tu" x="385.2" y="923.5"/>
<use href="#tu" x="394" y="926.3"/>
<use href="#tu" x="402.7" y="920.1"/>
<use href="#tu" x="411.5" y="923"/>
<use href="#tu" x="420.3" y="916.8"/>
<use href="#tu" x="429.1" y="919.7"/>
<use href="#tu" x="437.9" y="913.5"/>
<use href="#tu" x="446.7" y="916.4"/>
<use href="#tu" x="455.5" y="910.3"/>
<use href="#tu" x="464.3" y="913.2"/>
<use href="#tu" x="473" y="907"/>
<use href="#tu" x="481.8" y="909.9"/>
<use href="#tu" x="490.6" y="903.8"/>
<use href="#tu" x="499.4" y="906.7"/>
<use href="#tu" x="508.2" y="900.5"/>
<use href="#tu" x="517" y="903.4"/>
<use href="#tu" x="525.8" y="897.2"/>
<use href="#tu" x="534.6" y="900.1"/>
<use href="#tu" x="543.3" y="893.9"/>
<use href="#tu" x="552.1" y="896.8"/>
<use href="#tu" x="560.9" y="890.7"/>
<use href="#tu" x="569.7" y="893.5"/>
<use href="#tu" x="578.5" y="887.4"/>
<use href="#tu" x="587.3" y="890.2"/>
<use href="#tu" x="596.1" y="884.1"/>
<use href="#tu" x="604.9" y="886.9"/>
<use href="#tu" x="613.6" y="880.8"/>
<use href="#tu" x="622.4" y="883.6"/>
<use href="#tu" x="631.2" y="877.4"/>
<use href="#tu" x="640" y="880.2"/>
<use href="#tu" x="648.8" y="873.4"/>
<use href="#tu" x="657.6" y="874.1"/>
<use href="#tu" x="666.4" y="868.3"/>
<use href="#tu" x="675.2" y="875.4"/>
<use href="#tu" x="683.9" y="873.6"/>
<use href="#tu" x="692.7" y="875.6"/>
<use href="#tu" x="701.5" y="863.9"/>
<use href="#tu" x="710.3" y="858.8"/>
<use href="#tu" x="719.1" y="846.8"/>
<use href="#tu" x="727.9" y="845.9"/>
<use href="#tu" x="736.7" y="841.7"/>
<use href="#tu" x="745.5" y="838.2"/>
<use href="#tu" x="754.2" y="815.3"/>
<use href="#tu" x="763" y="804.3"/>
<use href="#tu" x="771.8" y="802.4"/>
<use href="#tu" x="780.6" y="801.9"/>
<use href="#tu" x="789.4" y="801.9"/>
<use href="#tu" x="798.2" y="801.9"/>
<use href="#tu" x="807" y="801.9"/>
<use href="#tu" x="815.8" y="801.9"/>
</g>
<g fill="#fff" stroke="#0000ff" stroke-width="1.1">
<use href="#di" x="112.8" y="990.6"/>
<use href="#di" x="119.3" y="992.3"/>
<use href="#di" x="125.9" y="990.2"/>
<use href="#di" x="132.5" y="991.3"/>
<use href="#di" x="139.1" y="988.7"/>
<use href="#di" x="145.7" y="988.9"/>
<use href="#di" x="152.3" y="985.4"/>
<use href="#di" x="158.9" y="985"/>
<use href="#di" x="165.5" y="980.3"/>
<use href="#di" x="172.1" y="979.6"/>
<use href="#di" x="178.7" y="972.9"/>
<use href="#di" x="185.2" y="971.8"/>
<use href="#di" x="191.8" y="964.7"/>
<use href="#di" x="198.4" y="965.7"/>
<use href="#di" x="205" y="960.6"/>
<use href="#di" x="211.6" y="961.9"/>
<use href="#di" x="218.2" y="958"/>
<use href="#di" x="224.8" y="960.4"/>
<use href="#di" x="231.4" y="956.7"/>
<use href="#di" x="238" y="959.1"/>
<use href="#di" x="244.6" y="953.5"/>
<use href="#di" x="251.2" y="953.3"/>
<use href="#di" x="257.7" y="947.2"/>
<use href="#di" x="264.3" y="949.3"/>
<use href="#di" x="270.9" y="945.4"/>
<use href="#di" x="277.5" y="947.4"/>
<use href="#di" x="284.1" y="943.5"/>
<use href="#di" x="290.7" y="945.6"/>
<use href="#di" x="297.3" y="941.6"/>
<use href="#di" x="303.9" y="943.4"/>
<use href="#di" x="310.5" y="939.1"/>
<use href="#di" x="317.1" y="940.8"/>
<use href="#di" x="323.7" y="936.6"/>
<use href="#di" x="330.2" y="938.3"/>
<use href="#di" x="336.8" y="934.1"/>
<use href="#di" x="343.4" y="935.8"/>
<use href="#di" x="350" y="931.6"/>
<use href="#di" x="356.6" y="933.3"/>
<use href="#di" x="363.2" y="929.1"/>
<use href="#di" x="369.8" y="930.9"/>
<use href="#di" x="376.4" y="925.5"/>
<use href="#di" x="383" y="929.5"/>
<use href="#di" x="389.6" y="923"/>
<use href="#di" x="396.2" y="927"/>
<use href="#di" x="402.7" y="920.5"/>
<use href="#di" x="409.3" y="924.5"/>
<use href="#di" x="415.9" y="918"/>
<use href="#di" x="422.5" y="922"/>
<use href="#di" x="429.1" y="915.5"/>
<use href="#di" x="435.7" y="919.6"/>
<use href="#di" x="442.3" y="913.1"/>
<use href="#di" x="448.9" y="917.1"/>
<use href="#di" x="455.5" y="910.7"/>
<use href="#di" x="462.1" y="914.7"/>
<use href="#di" x="468.6" y="908.2"/>
<use href="#di" x="475.2" y="912.3"/>
<use href="#di" x="481.8" y="905.8"/>
<use href="#di" x="488.4" y="909.8"/>
<use href="#di" x="495" y="903.3"/>
<use href="#di" x="501.6" y="907.4"/>
<use href="#di" x="508.2" y="900.9"/>
<use href="#di" x="514.8" y="904.9"/>
<use href="#di" x="521.4" y="898.4"/>
<use href="#di" x="528" y="902.5"/>
<use href="#di" x="534.6" y="896"/>
<use href="#di" x="541.1" y="900"/>
<use href="#di" x="547.7" y="893.5"/>
<use href="#di" x="554.3" y="897.5"/>
<use href="#di" x="560.9" y="891"/>
<use href="#di" x="567.5" y="895"/>
<use href="#di" x="574.1" y="888.6"/>
<use href="#di" x="580.7" y="892.6"/>
<use href="#di" x="587.3" y="886.1"/>
<use href="#di" x="593.9" y="890.1"/>
<use href="#di" x="600.5" y="883.6"/>
<use href="#di" x="607.1" y="887.6"/>
<use href="#di" x="613.6" y="881.1"/>
<use href="#di" x="620.2" y="885.2"/>
<use href="#di" x="626.8" y="878.6"/>
<use href="#di" x="633.4" y="882.6"/>
<use href="#di" x="640" y="876"/>
<use href="#di" x="646.6" y="879.9"/>
<use href="#di" x="653.2" y="872.1"/>
<use href="#di" x="659.8" y="874.8"/>
<use href="#di" x="666.4" y="868.5"/>
<use href="#di" x="673" y="874.8"/>
<use href="#di" x="679.6" y="871.8"/>
<use href="#di" x="686.1" y="876.4"/>
<use href="#di" x="692.7" y="867.7"/>
<use href="#di" x="699.3" y="867.3"/>
<use href="#di" x="705.9" y="855.8"/>
<use href="#di" x="712.5" y="856.2"/>
<use href="#di" x="719.1" y="849"/>
<use href="#di" x="725.7" y="853"/>
<use href="#di" x="732.3" y="846.2"/>
<use href="#di" x="738.9" y="853.3"/>
<use href="#di" x="745.5" y="839.7"/>
<use href="#di" x="752.1" y="830.9"/>
<use href="#di" x="758.6" y="813.1"/>
<use href="#di" x="765.2" y="805.2"/>
<use href="#di" x="771.8" y="802.7"/>
<use href="#di" x="778.4" y="802.1"/>
<use href="#di" x="785" y="801.7"/>
<use href="#di" x="791.6" y="802.1"/>
<use href="#di" x="798.2" y="801.7"/>
<use href="#di" x="804.8" y="802.1"/>
<use href="#di" x="811.4" y="801.7"/>
<use href="#di" x="818" y="802.1"/>
</g>
<g fill="#fff" stroke="#000" stroke-width="1.1">
<use href="#sq" x="212.9" y="963.3"/>
<use href="#sq" x="234" y="954.6"/>
<use href="#sq" x="239.3" y="960"/>
<use href="#sq" x="255.1" y="953.2"/>
<use href="#sq" x="260.4" y="945.4"/>
<use href="#sq" x="265.7" y="948.8"/>
<use href="#sq" x="270.9" y="948.1"/>
<use href="#sq" x="276.2" y="943.1"/>
<use href="#sq" x="281.5" y="948.6"/>
<use href="#sq" x="286.7" y="942.7"/>
<use href="#sq" x="292" y="943.5"/>
<use href="#sq" x="297.3" y="945.7"/>
<use href="#sq" x="302.6" y="938.7"/>
<use href="#sq" x="307.8" y="943.6"/>
<use href="#sq" x="313.1" y="939.7"/>
<use href="#sq" x="318.4" y="937.2"/>
<use href="#sq" x="323.7" y="941.3"/>
<use href="#sq" x="328.9" y="934.1"/>
<use href="#sq" x="334.2" y="937.3"/>
<use href="#sq" x="339.5" y="936.3"/>
<use href="#sq" x="344.7" y="931.1"/>
<use href="#sq" x="350" y="936.4"/>
<use href="#sq" x="355.3" y="930.2"/>
<use href="#sq" x="360.6" y="930.7"/>
<use href="#sq" x="365.8" y="932.6"/>
<use href="#sq" x="371.1" y="925.7"/>
<use href="#sq" x="376.4" y="930.6"/>
<use href="#sq" x="381.7" y="926.7"/>
<use href="#sq" x="386.9" y="924.2"/>
<use href="#sq" x="392.2" y="928.4"/>
<use href="#sq" x="397.5" y="921.2"/>
<use href="#sq" x="402.7" y="924.3"/>
<use href="#sq" x="408" y="923.3"/>
<use href="#sq" x="413.3" y="918.2"/>
<use href="#sq" x="418.6" y="923.4"/>
<use href="#sq" x="423.8" y="917.2"/>
<use href="#sq" x="429.1" y="917.8"/>
<use href="#sq" x="434.4" y="919.7"/>
<use href="#sq" x="439.7" y="912.8"/>
<use href="#sq" x="444.9" y="917.8"/>
<use href="#sq" x="450.2" y="913.9"/>
<use href="#sq" x="455.5" y="911.4"/>
<use href="#sq" x="460.7" y="915.6"/>
<use href="#sq" x="466" y="908.4"/>
<use href="#sq" x="471.3" y="911.6"/>
<use href="#sq" x="476.6" y="910.6"/>
<use href="#sq" x="481.8" y="905.4"/>
<use href="#sq" x="487.1" y="910.7"/>
<use href="#sq" x="492.4" y="904.5"/>
<use href="#sq" x="497.6" y="905.1"/>
<use href="#sq" x="502.9" y="907"/>
<use href="#sq" x="508.2" y="900.9"/>
<use href="#sq" x="513.5" y="904.5"/>
<use href="#sq" x="518.7" y="901.2"/>
<use href="#sq" x="524" y="899.1"/>
<use href="#sq" x="529.3" y="902.1"/>
<use href="#sq" x="534.6" y="896.3"/>
<use href="#sq" x="539.8" y="898.5"/>
<use href="#sq" x="545.1" y="897.5"/>
<use href="#sq" x="550.4" y="893.3"/>
<use href="#sq" x="555.6" y="897.2"/>
<use href="#sq" x="560.9" y="892.2"/>
<use href="#sq" x="566.2" y="892.3"/>
<use href="#sq" x="571.5" y="893.6"/>
<use href="#sq" x="576.7" y="888.1"/>
<use href="#sq" x="582" y="891.7"/>
<use href="#sq" x="587.3" y="888.4"/>
<use href="#sq" x="592.6" y="886.2"/>
<use href="#sq" x="597.8" y="889.3"/>
<use href="#sq" x="603.1" y="883.4"/>
<use href="#sq" x="608.4" y="885.7"/>
<use href="#sq" x="613.6" y="884.7"/>
<use href="#sq" x="618.9" y="880.5"/>
<use href="#sq" x="624.2" y="884.3"/>
<use href="#sq" x="629.5" y="879.2"/>
<use href="#sq" x="634.7" y="879.4"/>
<use href="#sq" x="640" y="880.6"/>
<use href="#sq" x="645.3" y="875.4"/>
<use href="#sq" x="650.6" y="878.9"/>
<use href="#sq" x="655.8" y="874.7"/>
<use href="#sq" x="661.1" y="871.3"/>
<use href="#sq" x="666.4" y="873.5"/>
<use href="#sq" x="671.6" y="867.9"/>
<use href="#sq" x="676.9" y="871.8"/>
<use href="#sq" x="682.2" y="872.7"/>
<use href="#sq" x="687.5" y="869.2"/>
<use href="#sq" x="692.7" y="874.3"/>
<use href="#sq" x="698" y="864.1"/>
<use href="#sq" x="703.3" y="861.9"/>
<use href="#sq" x="708.6" y="861.3"/>
<use href="#sq" x="713.8" y="850.1"/>
<use href="#sq" x="719.1" y="856.1"/>
<use href="#sq" x="724.4" y="850.7"/>
<use href="#sq" x="729.6" y="846.8"/>
<use href="#sq" x="734.9" y="853"/>
<use href="#sq" x="740.2" y="844.6"/>
<use href="#sq" x="745.5" y="847.2"/>
<use href="#sq" x="750.7" y="839"/>
<use href="#sq" x="756" y="824.5"/>
<use href="#sq" x="761.3" y="813.5"/>
<use href="#sq" x="766.6" y="805.7"/>
<use href="#sq" x="771.8" y="803.3"/>
<use href="#sq" x="777.1" y="802.7"/>
<use href="#sq" x="782.4" y="801.7"/>
<use href="#sq" x="787.6" y="802.1"/>
<use href="#sq" x="792.9" y="801.9"/>
<use href="#sq" x="798.2" y="801.8"/>
<use href="#sq" x="803.5" y="802.1"/>
<use href="#sq" x="808.7" y="801.7"/>
<use href="#sq" x="814" y="802"/>
<use href="#sq" x="819.3" y="802"/>
</g>
<path d="M771.8 785.6V1021.2" stroke="#000" stroke-width="2.6" stroke-dasharray="11.6 6.4" stroke-dashoffset="9.35" fill="none"/>
<g fill="#fff" stroke="#40e0d0" stroke-width="1.0">
<use href="#tr" x="429.1" y="912.9"/>
<use href="#tr" x="432.4" y="922.6"/>
<use href="#tr" x="435.7" y="912"/>
<use href="#tr" x="439" y="921.1"/>
<use href="#tr" x="442.3" y="911.1"/>
<use href="#tr" x="445.6" y="919.6"/>
<use href="#tr" x="448.9" y="910.1"/>
<use href="#tr" x="452.2" y="918.2"/>
<use href="#tr" x="455.5" y="909.2"/>
<use href="#tr" x="458.8" y="916.7"/>
<use href="#tr" x="462.1" y="908.1"/>
<use href="#tr" x="465.4" y="915.3"/>
<use href="#tr" x="468.6" y="907.1"/>
<use href="#tr" x="471.9" y="913.9"/>
<use href="#tr" x="475.2" y="906.1"/>
<use href="#tr" x="478.5" y="912.5"/>
<use href="#tr" x="481.8" y="905"/>
<use href="#tr" x="485.1" y="911.1"/>
<use href="#tr" x="488.4" y="903.9"/>
<use href="#tr" x="491.7" y="909.8"/>
<use href="#tr" x="495" y="902.9"/>
<use href="#tr" x="498.3" y="908.4"/>
<use href="#tr" x="501.6" y="901.8"/>
<use href="#tr" x="504.9" y="907.1"/>
<use href="#tr" x="508.2" y="900.6"/>
<use href="#tr" x="511.5" y="905.8"/>
<use href="#tr" x="514.8" y="899.5"/>
<use href="#tr" x="518.1" y="904.4"/>
<use href="#tr" x="521.4" y="898.4"/>
<use href="#tr" x="524.7" y="903.1"/>
<use href="#tr" x="528" y="897.2"/>
<use href="#tr" x="531.3" y="901.8"/>
<use href="#tr" x="534.6" y="896"/>
<use href="#tr" x="537.9" y="900.5"/>
<use href="#tr" x="541.1" y="894.9"/>
<use href="#tr" x="544.4" y="899.2"/>
<use href="#tr" x="547.7" y="893.7"/>
<use href="#tr" x="551" y="897.9"/>
<use href="#tr" x="554.3" y="892.5"/>
<use href="#tr" x="557.6" y="896.6"/>
<use href="#tr" x="560.9" y="891.3"/>
<use href="#tr" x="564.2" y="895.3"/>
<use href="#tr" x="567.5" y="890.1"/>
<use href="#tr" x="570.8" y="894.1"/>
<use href="#tr" x="574.1" y="888.9"/>
<use href="#tr" x="577.4" y="892.8"/>
<use href="#tr" x="580.7" y="887.7"/>
<use href="#tr" x="584" y="891.5"/>
<use href="#tr" x="587.3" y="886.5"/>
<use href="#tr" x="590.6" y="890.3"/>
<use href="#tr" x="593.9" y="885.3"/>
<use href="#tr" x="597.2" y="889"/>
<use href="#tr" x="600.5" y="884.1"/>
<use href="#tr" x="603.8" y="887.7"/>
<use href="#tr" x="607.1" y="882.9"/>
<use href="#tr" x="610.4" y="886.5"/>
<use href="#tr" x="613.6" y="881.7"/>
<use href="#tr" x="616.9" y="885.2"/>
<use href="#tr" x="620.2" y="880.5"/>
<use href="#tr" x="623.5" y="883.9"/>
<use href="#tr" x="626.8" y="879.2"/>
<use href="#tr" x="630.1" y="882.6"/>
<use href="#tr" x="633.4" y="877.9"/>
<use href="#tr" x="636.7" y="881.3"/>
<use href="#tr" x="640" y="876.6"/>
<use href="#tr" x="643.3" y="880"/>
<use href="#tr" x="646.6" y="875.4"/>
<use href="#tr" x="649.9" y="878.7"/>
<use href="#tr" x="653.2" y="874.1"/>
<use href="#tr" x="656.5" y="877.4"/>
<use href="#tr" x="659.8" y="872.8"/>
<use href="#tr" x="663.1" y="876.1"/>
<use href="#tr" x="666.4" y="871.5"/>
<use href="#tr" x="669.7" y="874.8"/>
<use href="#tr" x="673" y="870.2"/>
<use href="#tr" x="676.3" y="873.5"/>
<use href="#tr" x="679.6" y="868.9"/>
<use href="#tr" x="682.8" y="871.7"/>
<use href="#tr" x="686.1" y="866.6"/>
<use href="#tr" x="689.4" y="869.3"/>
<use href="#tr" x="692.7" y="864.3"/>
<use href="#tr" x="696" y="867"/>
<use href="#tr" x="699.3" y="862"/>
<use href="#tr" x="702.6" y="864.6"/>
<use href="#tr" x="705.9" y="859.4"/>
<use href="#tr" x="709.2" y="861.9"/>
<use href="#tr" x="712.5" y="856.8"/>
<use href="#tr" x="715.8" y="859.3"/>
<use href="#tr" x="719.1" y="854.2"/>
<use href="#tr" x="722.4" y="856.5"/>
<use href="#tr" x="725.7" y="850"/>
<use href="#tr" x="729" y="851.2"/>
<use href="#tr" x="732.3" y="844.7"/>
<use href="#tr" x="735.6" y="847.7"/>
<use href="#tr" x="738.9" y="843.9"/>
<use href="#tr" x="742.2" y="849.8"/>
<use href="#tr" x="745.5" y="846.7"/>
<use href="#tr" x="748.8" y="850.5"/>
<use href="#tr" x="752.1" y="842.7"/>
<use href="#tr" x="755.3" y="840"/>
<use href="#tr" x="758.6" y="833.1"/>
<use href="#tr" x="761.9" y="824.7"/>
<use href="#tr" x="765.2" y="816.8"/>
<use href="#tr" x="768.5" y="810.7"/>
<use href="#tr" x="771.8" y="805.8"/>
<use href="#tr" x="775.1" y="804.4"/>
<use href="#tr" x="778.4" y="802.9"/>
<use href="#tr" x="781.7" y="803"/>
<use href="#tr" x="785" y="801.9"/>
<use href="#tr" x="788.3" y="802.2"/>
<use href="#tr" x="791.6" y="801.6"/>
<use href="#tr" x="794.9" y="802.2"/>
<use href="#tr" x="798.2" y="801.6"/>
<use href="#tr" x="801.5" y="802.2"/>
<use href="#tr" x="804.8" y="801.6"/>
<use href="#tr" x="808.1" y="802.2"/>
<use href="#tr" x="811.4" y="801.6"/>
<use href="#tr" x="814.7" y="802.2"/>
<use href="#tr" x="818" y="801.6"/>
<use href="#tr" x="821.3" y="802.2"/>
</g>
<path d="M165.6 783.60V1021.2" stroke="#f00" stroke-width="2.4" stroke-dasharray="2.2 6.83" fill="none"/>
<path d="M324.3 935L693.5 871.9" stroke="#f00" stroke-width="7.4" fill="none"/>
<g stroke="#000" stroke-width="1.15" fill="none">
<path d="M112.8 785.6v12.3M112.8 1021.2v-12.3M178.7 785.6v6.2M178.7 1021.2v-6.2M244.6 785.6v12.3M244.6 1021.2v-12.3M310.5 785.6v6.2M310.5 1021.2v-6.2M376.4 785.6v12.3M376.4 1021.2v-12.3M442.3 785.6v6.2M442.3 1021.2v-6.2M508.2 785.6v12.3M508.2 1021.2v-12.3M574.1 785.6v6.2M574.1 1021.2v-6.2M640 785.6v12.3M640 1021.2v-12.3M705.9 785.6v6.2M705.9 1021.2v-6.2M771.8 785.6v12.3M771.8 1021.2v-12.3M112.8 991.5h12.3M824.5 991.5h-12.3M112.8 954h6.2M824.5 954h-6.2M112.8 916.5h12.3M824.5 916.5h-12.3M112.8 879h6.2M824.5 879h-6.2M112.8 841.5h12.3M824.5 841.5h-12.3M112.8 804h6.2M824.5 804h-6.2"/>
</g>
<rect x="112.8" y="785.6" width="711.8" height="235.6" fill="none" stroke="#000" stroke-width="1.3"/>
<text x="404.6" y="829.2" font-size="35.9" xml:space="preserve">(d)  Δ=0.5</text>
<rect x="643.5" y="901.6" width="123.9" height="112.3" fill="#fff" stroke="#000" stroke-width="1.2"/>
<use href="#tu" x="673.4" y="918.5" fill="#fff" stroke="#008b00" stroke-width="1.0"/>
<text x="715.5" y="926.1" font-size="21.3">t=30</text>
<use href="#di" x="673.4" y="944.5" fill="#fff" stroke="#0000ff" stroke-width="1.1"/>
<text x="715.5" y="952.1" font-size="21.3">t=40</text>
<use href="#sq" x="673.4" y="970.6" fill="#fff" stroke="#000" stroke-width="1.1"/>
<text x="715.5" y="978.2" font-size="21.3">t=50</text>
<use href="#tr" x="673.4" y="995.6" fill="#fff" stroke="#40e0d0" stroke-width="1.0"/>
<text x="715.5" y="1003.2" font-size="21.3">t=80</text>
<text x="103.8" y="999.4" text-anchor="end" font-size="22">0</text>
<text x="103.8" y="924.4" text-anchor="end" font-size="22">0.2</text>
<text x="103.8" y="849.4" text-anchor="end" font-size="22">0.4</text>
<text x="2.3" y="913.5" font-size="28.5">&lt;</text>
<text x="18.6" y="912" font-size="28.5">S</text>
<text x="37.6" y="894" font-size="17.5">z</text>
<text x="37.4" y="922.1" font-size="17.5">i</text>
<text x="47.9" y="913.5" font-size="28.5">&gt;</text>
<text x="113.8" y="1046.6" text-anchor="middle" font-size="22">-1.5</text>
<text x="245.6" y="1046.6" text-anchor="middle" font-size="22">-1</text>
<text x="377.4" y="1046.6" text-anchor="middle" font-size="22">-0.5</text>
<text x="509.2" y="1046.6" text-anchor="middle" font-size="22">0</text>
<text x="641" y="1046.6" text-anchor="middle" font-size="22">0.5</text>
<text x="772.8" y="1046.6" text-anchor="middle" font-size="22">1</text>
<text x="430" y="1077.7" font-size="28">(i-L<tspan font-size="19.5" dy="10">A</tspan><tspan dy="-10">)/t</tspan></text>
</svg>
</body></html>
